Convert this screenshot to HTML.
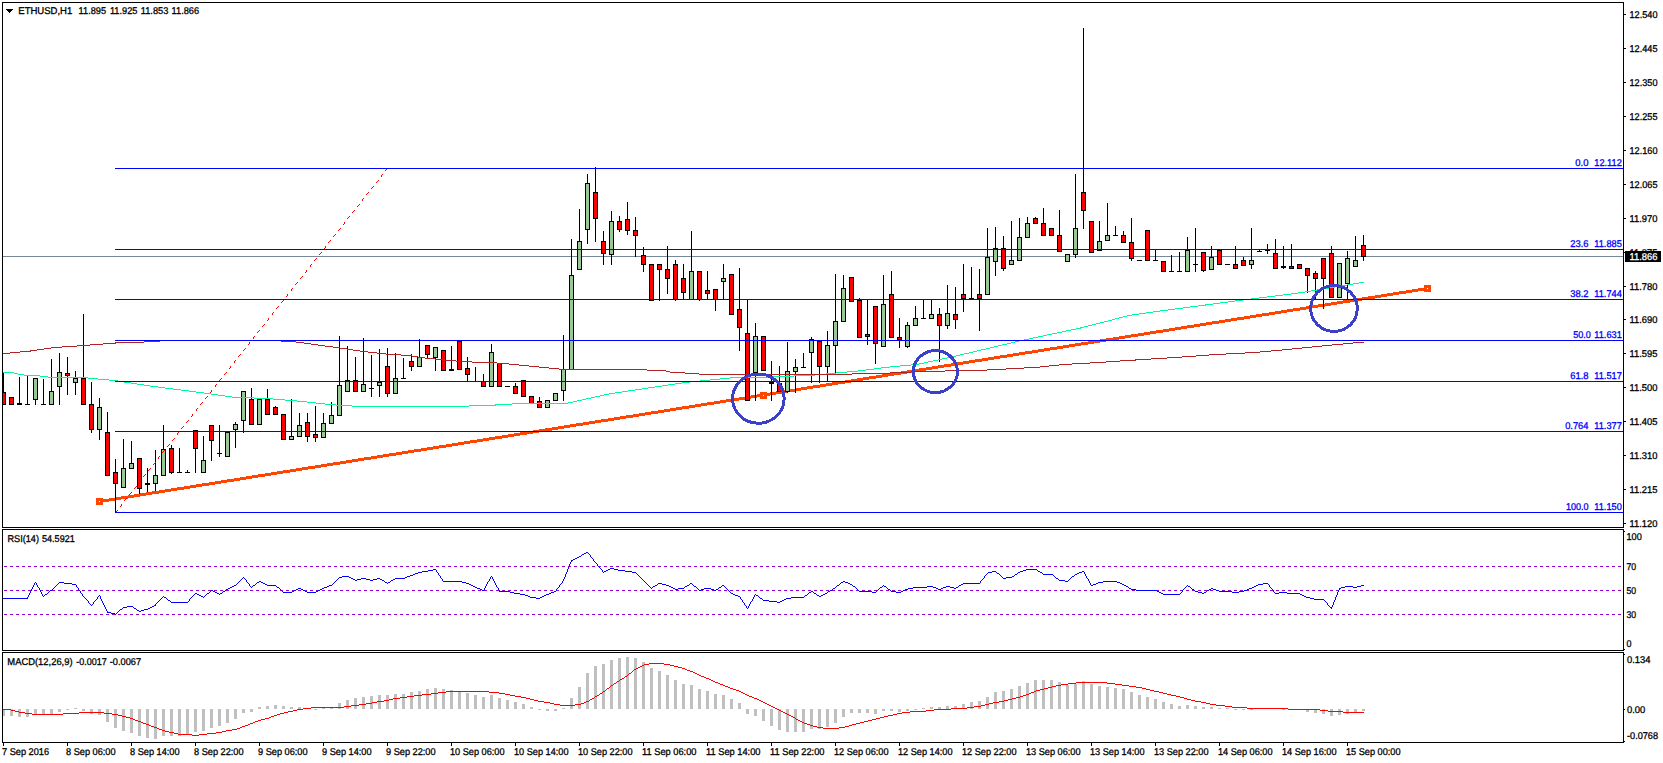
<!DOCTYPE html>
<html lang="en"><head><meta charset="utf-8"><title>ETHUSD,H1</title>
<style>html,body{margin:0;padding:0;background:#fff;overflow:hidden}svg{display:block}text{font-family:"Liberation Sans",sans-serif;font-size:9.8px;fill:#000;stroke:#000;stroke-width:0.3px;text-rendering:geometricPrecision}.b{fill:#0000ff;stroke:#0000ff}.w{fill:#fff;stroke:#fff}</style></head><body>
<svg width="1663" height="763" viewBox="0 0 1663 763">
<rect width="1663" height="763" fill="#fff"/>
<g shape-rendering="crispEdges">
<defs><clipPath id="cm"><rect x="3" y="3" width="1620" height="524"/></clipPath></defs>
<g clip-path="url(#cm)">
<rect x="3" y="256" width="1620" height="1" fill="#778899"/>
<path fill="#FF4500" d="M682 406h19v1h-19zM926 367h18v1h-18zM1269 312h18v1h-18zM1375 295h18v1h-18zM1225 319h19v1h-19zM134 494h18v1h-18zM1331 302h19v1h-19zM99 501h10v1h-10zM389 453h19v1h-19zM633 414h18v1h-18zM495 436h19v1h-19zM739 397h18v1h-18zM1081 342h19v1h-19zM1262 313h19v1h-19zM1038 349h19v1h-19zM1144 332h19v1h-19zM265 473h18v1h-18zM202 483h19v1h-19zM446 444h18v1h-18zM894 372h19v1h-19zM851 379h18v1h-18zM152 491h19v1h-19zM258 474h19v1h-19zM601 419h19v1h-19zM377 455h19v1h-19zM558 426h18v1h-18zM707 402h19v1h-19zM483 438h19v1h-19zM664 409h18v1h-18zM1250 315h19v1h-19zM782 390h19v1h-19zM963 361h19v1h-19zM1356 298h19v1h-19zM414 449h19v1h-19zM190 485h19v1h-19zM371 456h18v1h-18zM296 468h19v1h-19zM477 439h18v1h-18zM1063 345h18v1h-18zM1244 316h18v1h-18zM595 420h19v1h-19zM701 403h19v1h-19zM227 479h19v1h-19zM184 486h18v1h-18zM951 363h18v1h-18zM876 375h18v1h-18zM726 399h19v1h-19zM1057 346h18v1h-18zM408 450h19v1h-19zM1175 327h19v1h-19zM1281 310h19v1h-19zM1131 334h19v1h-19zM764 393h18v1h-18zM689 405h18v1h-18zM539 429h19v1h-19zM1212 321h19v1h-19zM221 480h19v1h-19zM988 357h19v1h-19zM1169 328h18v1h-18zM944 364h19v1h-19zM1393 292h19v1h-19zM396 452h18v1h-18zM576 423h19v1h-19zM352 459h19v1h-19zM1025 351h19v1h-19zM801 387h19v1h-19zM982 358h18v1h-18zM757 394h19v1h-19zM1343 300h19v1h-19zM1206 322h19v1h-19zM209 482h18v1h-18zM165 489h19v1h-19zM508 434h19v1h-19zM283 470h19v1h-19zM464 441h19v1h-19zM614 417h19v1h-19zM795 388h18v1h-18zM857 378h19v1h-19zM1156 330h19v1h-19zM1337 301h19v1h-19zM1019 352h19v1h-19zM321 464h19v1h-19zM99 500h16v1h-16zM277 471h19v1h-19zM969 360h19v1h-19zM1150 331h19v1h-19zM502 435h18v1h-18zM676 407h19v1h-19zM1306 306h19v1h-19zM315 465h18v1h-18zM1325 303h18v1h-18zM1412 289h17v1h-17zM1187 325h19v1h-19zM1368 296h19v1h-19zM489 437h19v1h-19zM670 408h19v1h-19zM776 391h19v1h-19zM1119 336h19v1h-19zM128 495h18v1h-18zM1075 343h19v1h-19zM1138 333h18v1h-18zM1000 355h19v1h-19zM1300 307h18v1h-18zM302 467h19v1h-19zM932 366h19v1h-19zM888 373h19v1h-19zM1113 337h18v1h-18zM115 497h19v1h-19zM658 410h18v1h-18zM745 396h19v1h-19zM520 432h19v1h-19zM1287 309h19v1h-19zM820 384h18v1h-18zM470 440h19v1h-19zM1100 339h19v1h-19zM1399 291h19v1h-19zM583 422h18v1h-18zM913 369h19v1h-19zM1318 304h19v1h-19zM1094 340h19v1h-19zM620 416h19v1h-19zM907 370h19v1h-19zM433 446h19v1h-19zM732 398h19v1h-19zM838 381h19v1h-19zM1381 294h18v1h-18zM246 476h19v1h-19zM545 428h19v1h-19zM564 425h19v1h-19zM651 411h19v1h-19zM427 447h19v1h-19zM1194 324h18v1h-18zM832 382h19v1h-19zM1418 288h11v1h-11zM240 477h18v1h-18zM1007 354h18v1h-18zM1231 318h19v1h-19zM99 502h4v1h-4zM714 401h18v1h-18zM1362 297h19v1h-19zM1044 348h19v1h-19zM527 431h18v1h-18zM234 478h18v1h-18zM813 385h19v1h-19zM340 461h18v1h-18zM639 413h19v1h-19zM882 374h19v1h-19zM452 443h18v1h-18zM695 404h19v1h-19zM333 462h19v1h-19zM146 492h19v1h-19zM845 380h18v1h-18zM140 493h19v1h-19zM364 457h19v1h-19zM177 487h19v1h-19zM358 458h19v1h-19zM826 383h19v1h-19zM171 488h19v1h-19zM121 496h19v1h-19zM346 460h18v1h-18zM975 359h19v1h-19zM751 395h19v1h-19zM159 490h18v1h-18zM788 389h19v1h-19zM919 368h19v1h-19zM957 362h18v1h-18zM770 392h18v1h-18zM1069 344h19v1h-19zM252 475h19v1h-19zM290 469h18v1h-18zM103 499h18v1h-18zM402 451h19v1h-19zM1050 347h19v1h-19zM215 481h19v1h-19zM863 377h19v1h-19zM570 424h19v1h-19zM1219 320h18v1h-18zM383 454h19v1h-19zM1032 350h18v1h-18zM196 484h19v1h-19zM308 466h19v1h-19zM552 427h18v1h-18zM1181 326h19v1h-19zM994 356h19v1h-19zM807 386h19v1h-19zM1106 338h19v1h-19zM1125 335h19v1h-19zM938 365h19v1h-19zM1275 311h18v1h-18zM458 442h19v1h-19zM1088 341h18v1h-18zM271 472h19v1h-19zM901 371h18v1h-18zM608 418h18v1h-18zM1013 353h19v1h-19zM1256 314h19v1h-19zM421 448h18v1h-18zM1293 308h19v1h-19zM589 421h19v1h-19zM626 415h19v1h-19zM514 433h19v1h-19zM439 445h19v1h-19zM1163 329h18v1h-18zM1387 293h19v1h-19zM327 463h19v1h-19zM1200 323h19v1h-19zM1312 305h19v1h-19zM720 400h19v1h-19zM533 430h19v1h-19zM1237 317h19v1h-19zM1350 299h18v1h-18zM1406 290h18v1h-18zM645 412h19v1h-19zM869 376h19v1h-19zM109 498h19v1h-19zM1424 287h5v1h-5z"/>
<rect x="96" y="498" width="7" height="7" fill="#FF4500"/>
<rect x="99" y="501" width="1" height="1" fill="#fff"/>
<rect x="760" y="392" width="7" height="7" fill="#FF4500"/>
<rect x="763" y="395" width="1" height="1" fill="#fff"/>
<rect x="1424" y="285" width="7" height="7" fill="#FF4500"/>
<rect x="1427" y="288" width="1" height="1" fill="#fff"/>
<rect x="3" y="372" width="1" height="33" fill="#000"/>
<rect x="1" y="392" width="5" height="13" fill="#000"/>
<rect x="2" y="393" width="3" height="11" fill="#FF0000"/>
<rect x="11" y="397" width="1" height="8" fill="#000"/>
<rect x="9" y="397" width="5" height="8" fill="#000"/>
<rect x="10" y="398" width="3" height="6" fill="#FF0000"/>
<rect x="19" y="377" width="1" height="28" fill="#000"/>
<rect x="17" y="403" width="5" height="2" fill="#000"/>
<rect x="27" y="376" width="1" height="29" fill="#000"/>
<rect x="25" y="404" width="5" height="1" fill="#000"/>
<rect x="35" y="378" width="1" height="27" fill="#000"/>
<rect x="33" y="378" width="5" height="22" fill="#000"/>
<rect x="34" y="379" width="3" height="20" fill="#98C894"/>
<rect x="43" y="379" width="1" height="26" fill="#000"/>
<rect x="41" y="404" width="5" height="1" fill="#000"/>
<rect x="51" y="359" width="1" height="46" fill="#000"/>
<rect x="49" y="391" width="5" height="14" fill="#000"/>
<rect x="50" y="392" width="3" height="12" fill="#98C894"/>
<rect x="59" y="353" width="1" height="52" fill="#000"/>
<rect x="57" y="372" width="5" height="15" fill="#000"/>
<rect x="58" y="373" width="3" height="13" fill="#98C894"/>
<rect x="67" y="357" width="1" height="38" fill="#000"/>
<rect x="65" y="373" width="5" height="3" fill="#000"/>
<rect x="66" y="374" width="3" height="1" fill="#FF0000"/>
<rect x="75" y="371" width="1" height="24" fill="#000"/>
<rect x="73" y="378" width="5" height="5" fill="#000"/>
<rect x="74" y="379" width="3" height="3" fill="#98C894"/>
<rect x="83" y="314" width="1" height="91" fill="#000"/>
<rect x="81" y="378" width="5" height="27" fill="#000"/>
<rect x="82" y="379" width="3" height="25" fill="#FF0000"/>
<rect x="91" y="382" width="1" height="51" fill="#000"/>
<rect x="89" y="404" width="5" height="26" fill="#000"/>
<rect x="90" y="405" width="3" height="24" fill="#FF0000"/>
<rect x="99" y="398" width="1" height="42" fill="#000"/>
<rect x="97" y="407" width="5" height="23" fill="#000"/>
<rect x="98" y="408" width="3" height="21" fill="#98C894"/>
<rect x="107" y="412" width="1" height="64" fill="#000"/>
<rect x="105" y="432" width="5" height="44" fill="#000"/>
<rect x="106" y="433" width="3" height="42" fill="#FF0000"/>
<rect x="115" y="459" width="1" height="54" fill="#000"/>
<rect x="113" y="472" width="5" height="12" fill="#000"/>
<rect x="114" y="473" width="3" height="10" fill="#FF0000"/>
<rect x="123" y="439" width="1" height="49" fill="#000"/>
<rect x="121" y="468" width="5" height="20" fill="#000"/>
<rect x="122" y="469" width="3" height="18" fill="#98C894"/>
<rect x="131" y="441" width="1" height="28" fill="#000"/>
<rect x="129" y="463" width="5" height="6" fill="#000"/>
<rect x="130" y="464" width="3" height="4" fill="#98C894"/>
<rect x="139" y="458" width="1" height="36" fill="#000"/>
<rect x="137" y="458" width="5" height="31" fill="#000"/>
<rect x="138" y="459" width="3" height="29" fill="#FF0000"/>
<rect x="147" y="468" width="1" height="24" fill="#000"/>
<rect x="145" y="483" width="5" height="2" fill="#000"/>
<rect x="155" y="450" width="1" height="41" fill="#000"/>
<rect x="153" y="475" width="5" height="9" fill="#000"/>
<rect x="154" y="476" width="3" height="7" fill="#98C894"/>
<rect x="163" y="425" width="1" height="51" fill="#000"/>
<rect x="161" y="449" width="5" height="27" fill="#000"/>
<rect x="162" y="450" width="3" height="25" fill="#98C894"/>
<rect x="171" y="445" width="1" height="29" fill="#000"/>
<rect x="169" y="448" width="5" height="25" fill="#000"/>
<rect x="170" y="449" width="3" height="23" fill="#FF0000"/>
<rect x="179" y="448" width="1" height="25" fill="#000"/>
<rect x="177" y="472" width="5" height="1" fill="#000"/>
<rect x="187" y="470" width="1" height="3" fill="#000"/>
<rect x="185" y="472" width="5" height="1" fill="#000"/>
<rect x="195" y="430" width="1" height="43" fill="#000"/>
<rect x="193" y="430" width="5" height="19" fill="#000"/>
<rect x="194" y="431" width="3" height="17" fill="#FF0000"/>
<rect x="203" y="436" width="1" height="37" fill="#000"/>
<rect x="201" y="460" width="5" height="13" fill="#000"/>
<rect x="202" y="461" width="3" height="11" fill="#98C894"/>
<rect x="211" y="425" width="1" height="36" fill="#000"/>
<rect x="209" y="425" width="5" height="16" fill="#000"/>
<rect x="210" y="426" width="3" height="14" fill="#FF0000"/>
<rect x="219" y="425" width="1" height="32" fill="#000"/>
<rect x="217" y="453" width="5" height="1" fill="#000"/>
<rect x="227" y="432" width="1" height="25" fill="#000"/>
<rect x="225" y="432" width="5" height="25" fill="#000"/>
<rect x="226" y="433" width="3" height="23" fill="#98C894"/>
<rect x="235" y="422" width="1" height="26" fill="#000"/>
<rect x="233" y="424" width="5" height="6" fill="#000"/>
<rect x="234" y="425" width="3" height="4" fill="#98C894"/>
<rect x="243" y="391" width="1" height="42" fill="#000"/>
<rect x="241" y="391" width="5" height="30" fill="#000"/>
<rect x="242" y="392" width="3" height="28" fill="#98C894"/>
<rect x="251" y="388" width="1" height="37" fill="#000"/>
<rect x="249" y="399" width="5" height="26" fill="#000"/>
<rect x="250" y="400" width="3" height="24" fill="#FF0000"/>
<rect x="259" y="399" width="1" height="26" fill="#000"/>
<rect x="257" y="399" width="5" height="26" fill="#000"/>
<rect x="258" y="400" width="3" height="24" fill="#98C894"/>
<rect x="267" y="389" width="1" height="26" fill="#000"/>
<rect x="265" y="399" width="5" height="16" fill="#000"/>
<rect x="266" y="400" width="3" height="14" fill="#FF0000"/>
<rect x="275" y="406" width="1" height="9" fill="#000"/>
<rect x="273" y="407" width="5" height="8" fill="#000"/>
<rect x="274" y="408" width="3" height="6" fill="#FF0000"/>
<rect x="283" y="414" width="1" height="26" fill="#000"/>
<rect x="281" y="414" width="5" height="26" fill="#000"/>
<rect x="282" y="415" width="3" height="24" fill="#FF0000"/>
<rect x="291" y="399" width="1" height="41" fill="#000"/>
<rect x="289" y="436" width="5" height="4" fill="#000"/>
<rect x="290" y="437" width="3" height="2" fill="#98C894"/>
<rect x="299" y="413" width="1" height="24" fill="#000"/>
<rect x="297" y="425" width="5" height="12" fill="#000"/>
<rect x="298" y="426" width="3" height="10" fill="#98C894"/>
<rect x="307" y="413" width="1" height="29" fill="#000"/>
<rect x="305" y="422" width="5" height="15" fill="#000"/>
<rect x="306" y="423" width="3" height="13" fill="#FF0000"/>
<rect x="315" y="406" width="1" height="36" fill="#000"/>
<rect x="313" y="434" width="5" height="4" fill="#000"/>
<rect x="314" y="435" width="3" height="2" fill="#FF0000"/>
<rect x="323" y="413" width="1" height="25" fill="#000"/>
<rect x="321" y="423" width="5" height="15" fill="#000"/>
<rect x="322" y="424" width="3" height="13" fill="#98C894"/>
<rect x="331" y="402" width="1" height="22" fill="#000"/>
<rect x="329" y="415" width="5" height="9" fill="#000"/>
<rect x="330" y="416" width="3" height="7" fill="#98C894"/>
<rect x="339" y="336" width="1" height="80" fill="#000"/>
<rect x="337" y="385" width="5" height="31" fill="#000"/>
<rect x="338" y="386" width="3" height="29" fill="#98C894"/>
<rect x="347" y="346" width="1" height="46" fill="#000"/>
<rect x="345" y="380" width="5" height="12" fill="#000"/>
<rect x="346" y="381" width="3" height="10" fill="#98C894"/>
<rect x="355" y="357" width="1" height="35" fill="#000"/>
<rect x="353" y="380" width="5" height="12" fill="#000"/>
<rect x="354" y="381" width="3" height="10" fill="#FF0000"/>
<rect x="363" y="338" width="1" height="54" fill="#000"/>
<rect x="361" y="384" width="5" height="8" fill="#000"/>
<rect x="362" y="385" width="3" height="6" fill="#98C894"/>
<rect x="371" y="355" width="1" height="42" fill="#000"/>
<rect x="369" y="388" width="5" height="1" fill="#000"/>
<rect x="379" y="349" width="1" height="48" fill="#000"/>
<rect x="377" y="382" width="5" height="4" fill="#000"/>
<rect x="378" y="383" width="3" height="2" fill="#98C894"/>
<rect x="387" y="348" width="1" height="49" fill="#000"/>
<rect x="385" y="366" width="5" height="28" fill="#000"/>
<rect x="386" y="367" width="3" height="26" fill="#FF0000"/>
<rect x="395" y="353" width="1" height="41" fill="#000"/>
<rect x="393" y="378" width="5" height="16" fill="#000"/>
<rect x="394" y="379" width="3" height="14" fill="#98C894"/>
<rect x="403" y="358" width="1" height="21" fill="#000"/>
<rect x="401" y="378" width="5" height="1" fill="#000"/>
<rect x="411" y="354" width="1" height="17" fill="#000"/>
<rect x="409" y="361" width="5" height="6" fill="#000"/>
<rect x="410" y="362" width="3" height="4" fill="#FF0000"/>
<rect x="419" y="339" width="1" height="28" fill="#000"/>
<rect x="417" y="357" width="5" height="10" fill="#000"/>
<rect x="418" y="358" width="3" height="8" fill="#98C894"/>
<rect x="427" y="345" width="1" height="13" fill="#000"/>
<rect x="425" y="345" width="5" height="10" fill="#000"/>
<rect x="426" y="346" width="3" height="8" fill="#FF0000"/>
<rect x="435" y="347" width="1" height="24" fill="#000"/>
<rect x="433" y="347" width="5" height="11" fill="#000"/>
<rect x="434" y="348" width="3" height="9" fill="#98C894"/>
<rect x="443" y="350" width="1" height="21" fill="#000"/>
<rect x="441" y="350" width="5" height="21" fill="#000"/>
<rect x="442" y="351" width="3" height="19" fill="#FF0000"/>
<rect x="451" y="346" width="1" height="25" fill="#000"/>
<rect x="449" y="369" width="5" height="2" fill="#000"/>
<rect x="459" y="341" width="1" height="29" fill="#000"/>
<rect x="457" y="341" width="5" height="29" fill="#000"/>
<rect x="458" y="342" width="3" height="27" fill="#FF0000"/>
<rect x="467" y="357" width="1" height="24" fill="#000"/>
<rect x="465" y="368" width="5" height="7" fill="#000"/>
<rect x="466" y="369" width="3" height="5" fill="#FF0000"/>
<rect x="475" y="367" width="1" height="15" fill="#000"/>
<rect x="473" y="381" width="5" height="1" fill="#000"/>
<rect x="483" y="374" width="1" height="13" fill="#000"/>
<rect x="481" y="381" width="5" height="6" fill="#000"/>
<rect x="482" y="382" width="3" height="4" fill="#FF0000"/>
<rect x="491" y="344" width="1" height="43" fill="#000"/>
<rect x="489" y="352" width="5" height="35" fill="#000"/>
<rect x="490" y="353" width="3" height="33" fill="#98C894"/>
<rect x="499" y="363" width="1" height="24" fill="#000"/>
<rect x="497" y="363" width="5" height="24" fill="#000"/>
<rect x="498" y="364" width="3" height="22" fill="#FF0000"/>
<rect x="507" y="386" width="1" height="1" fill="#000"/>
<rect x="505" y="386" width="5" height="1" fill="#000"/>
<rect x="515" y="383" width="1" height="11" fill="#000"/>
<rect x="513" y="386" width="5" height="8" fill="#000"/>
<rect x="514" y="387" width="3" height="6" fill="#FF0000"/>
<rect x="523" y="380" width="1" height="17" fill="#000"/>
<rect x="521" y="380" width="5" height="17" fill="#000"/>
<rect x="522" y="381" width="3" height="15" fill="#FF0000"/>
<rect x="531" y="396" width="1" height="8" fill="#000"/>
<rect x="529" y="396" width="5" height="8" fill="#000"/>
<rect x="530" y="397" width="3" height="6" fill="#FF0000"/>
<rect x="539" y="397" width="1" height="11" fill="#000"/>
<rect x="537" y="401" width="5" height="7" fill="#000"/>
<rect x="538" y="402" width="3" height="5" fill="#FF0000"/>
<rect x="547" y="400" width="1" height="8" fill="#000"/>
<rect x="545" y="400" width="5" height="8" fill="#000"/>
<rect x="546" y="401" width="3" height="6" fill="#98C894"/>
<rect x="555" y="393" width="1" height="8" fill="#000"/>
<rect x="553" y="393" width="5" height="8" fill="#000"/>
<rect x="554" y="394" width="3" height="6" fill="#98C894"/>
<rect x="563" y="335" width="1" height="66" fill="#000"/>
<rect x="561" y="369" width="5" height="22" fill="#000"/>
<rect x="562" y="370" width="3" height="20" fill="#98C894"/>
<rect x="571" y="239" width="1" height="131" fill="#000"/>
<rect x="569" y="275" width="5" height="95" fill="#000"/>
<rect x="570" y="276" width="3" height="93" fill="#98C894"/>
<rect x="579" y="209" width="1" height="61" fill="#000"/>
<rect x="577" y="241" width="5" height="29" fill="#000"/>
<rect x="578" y="242" width="3" height="27" fill="#98C894"/>
<rect x="587" y="174" width="1" height="70" fill="#000"/>
<rect x="585" y="183" width="5" height="47" fill="#000"/>
<rect x="586" y="184" width="3" height="45" fill="#98C894"/>
<rect x="595" y="167" width="1" height="75" fill="#000"/>
<rect x="593" y="192" width="5" height="27" fill="#000"/>
<rect x="594" y="193" width="3" height="25" fill="#FF0000"/>
<rect x="603" y="231" width="1" height="34" fill="#000"/>
<rect x="601" y="241" width="5" height="13" fill="#000"/>
<rect x="602" y="242" width="3" height="11" fill="#FF0000"/>
<rect x="611" y="211" width="1" height="54" fill="#000"/>
<rect x="609" y="221" width="5" height="34" fill="#000"/>
<rect x="610" y="222" width="3" height="32" fill="#98C894"/>
<rect x="619" y="216" width="1" height="16" fill="#000"/>
<rect x="617" y="221" width="5" height="9" fill="#000"/>
<rect x="618" y="222" width="3" height="7" fill="#FF0000"/>
<rect x="627" y="202" width="1" height="33" fill="#000"/>
<rect x="625" y="219" width="5" height="12" fill="#000"/>
<rect x="626" y="220" width="3" height="10" fill="#FF0000"/>
<rect x="635" y="217" width="1" height="40" fill="#000"/>
<rect x="633" y="230" width="5" height="6" fill="#000"/>
<rect x="634" y="231" width="3" height="4" fill="#FF0000"/>
<rect x="643" y="247" width="1" height="25" fill="#000"/>
<rect x="641" y="255" width="5" height="10" fill="#000"/>
<rect x="642" y="256" width="3" height="8" fill="#FF0000"/>
<rect x="651" y="264" width="1" height="37" fill="#000"/>
<rect x="649" y="264" width="5" height="37" fill="#000"/>
<rect x="650" y="265" width="3" height="35" fill="#FF0000"/>
<rect x="659" y="264" width="1" height="37" fill="#000"/>
<rect x="657" y="264" width="5" height="6" fill="#000"/>
<rect x="658" y="265" width="3" height="4" fill="#FF0000"/>
<rect x="667" y="246" width="1" height="48" fill="#000"/>
<rect x="665" y="269" width="5" height="10" fill="#000"/>
<rect x="666" y="270" width="3" height="8" fill="#FF0000"/>
<rect x="675" y="260" width="1" height="41" fill="#000"/>
<rect x="673" y="264" width="5" height="36" fill="#000"/>
<rect x="674" y="265" width="3" height="34" fill="#FF0000"/>
<rect x="683" y="264" width="1" height="36" fill="#000"/>
<rect x="681" y="278" width="5" height="15" fill="#000"/>
<rect x="682" y="279" width="3" height="13" fill="#FF0000"/>
<rect x="691" y="231" width="1" height="69" fill="#000"/>
<rect x="689" y="271" width="5" height="29" fill="#000"/>
<rect x="690" y="272" width="3" height="27" fill="#98C894"/>
<rect x="699" y="271" width="1" height="30" fill="#000"/>
<rect x="697" y="271" width="5" height="29" fill="#000"/>
<rect x="698" y="272" width="3" height="27" fill="#FF0000"/>
<rect x="707" y="271" width="1" height="29" fill="#000"/>
<rect x="705" y="290" width="5" height="4" fill="#000"/>
<rect x="706" y="291" width="3" height="2" fill="#FF0000"/>
<rect x="715" y="289" width="1" height="22" fill="#000"/>
<rect x="713" y="289" width="5" height="11" fill="#000"/>
<rect x="714" y="290" width="3" height="9" fill="#FF0000"/>
<rect x="723" y="264" width="1" height="36" fill="#000"/>
<rect x="721" y="278" width="5" height="4" fill="#000"/>
<rect x="722" y="279" width="3" height="2" fill="#98C894"/>
<rect x="731" y="274" width="1" height="41" fill="#000"/>
<rect x="729" y="274" width="5" height="41" fill="#000"/>
<rect x="730" y="275" width="3" height="39" fill="#FF0000"/>
<rect x="739" y="268" width="1" height="83" fill="#000"/>
<rect x="737" y="309" width="5" height="19" fill="#000"/>
<rect x="738" y="310" width="3" height="17" fill="#FF0000"/>
<rect x="747" y="300" width="1" height="101" fill="#000"/>
<rect x="745" y="333" width="5" height="68" fill="#000"/>
<rect x="746" y="334" width="3" height="66" fill="#FF0000"/>
<rect x="755" y="323" width="1" height="78" fill="#000"/>
<rect x="753" y="336" width="5" height="37" fill="#000"/>
<rect x="754" y="337" width="3" height="35" fill="#98C894"/>
<rect x="763" y="336" width="1" height="35" fill="#000"/>
<rect x="761" y="336" width="5" height="35" fill="#000"/>
<rect x="762" y="337" width="3" height="33" fill="#FF0000"/>
<rect x="771" y="361" width="1" height="40" fill="#000"/>
<rect x="769" y="382" width="5" height="2" fill="#000"/>
<rect x="779" y="366" width="1" height="26" fill="#000"/>
<rect x="777" y="383" width="5" height="9" fill="#000"/>
<rect x="778" y="384" width="3" height="7" fill="#FF0000"/>
<rect x="787" y="342" width="1" height="51" fill="#000"/>
<rect x="785" y="371" width="5" height="21" fill="#000"/>
<rect x="786" y="372" width="3" height="19" fill="#98C894"/>
<rect x="795" y="359" width="1" height="34" fill="#000"/>
<rect x="793" y="367" width="5" height="5" fill="#000"/>
<rect x="794" y="368" width="3" height="3" fill="#98C894"/>
<rect x="803" y="353" width="1" height="15" fill="#000"/>
<rect x="801" y="367" width="5" height="1" fill="#000"/>
<rect x="811" y="337" width="1" height="46" fill="#000"/>
<rect x="809" y="339" width="5" height="14" fill="#000"/>
<rect x="810" y="340" width="3" height="12" fill="#98C894"/>
<rect x="819" y="341" width="1" height="42" fill="#000"/>
<rect x="817" y="341" width="5" height="26" fill="#000"/>
<rect x="818" y="342" width="3" height="24" fill="#FF0000"/>
<rect x="827" y="331" width="1" height="50" fill="#000"/>
<rect x="825" y="345" width="5" height="22" fill="#000"/>
<rect x="826" y="346" width="3" height="20" fill="#98C894"/>
<rect x="835" y="274" width="1" height="99" fill="#000"/>
<rect x="833" y="321" width="5" height="25" fill="#000"/>
<rect x="834" y="322" width="3" height="23" fill="#98C894"/>
<rect x="843" y="275" width="1" height="47" fill="#000"/>
<rect x="841" y="288" width="5" height="34" fill="#000"/>
<rect x="842" y="289" width="3" height="32" fill="#98C894"/>
<rect x="851" y="277" width="1" height="25" fill="#000"/>
<rect x="849" y="277" width="5" height="25" fill="#000"/>
<rect x="850" y="278" width="3" height="23" fill="#FF0000"/>
<rect x="859" y="298" width="1" height="40" fill="#000"/>
<rect x="857" y="300" width="5" height="38" fill="#000"/>
<rect x="858" y="301" width="3" height="36" fill="#FF0000"/>
<rect x="867" y="300" width="1" height="45" fill="#000"/>
<rect x="865" y="334" width="5" height="3" fill="#000"/>
<rect x="866" y="335" width="3" height="1" fill="#FF0000"/>
<rect x="875" y="306" width="1" height="58" fill="#000"/>
<rect x="873" y="306" width="5" height="38" fill="#000"/>
<rect x="874" y="307" width="3" height="36" fill="#FF0000"/>
<rect x="883" y="275" width="1" height="72" fill="#000"/>
<rect x="881" y="304" width="5" height="43" fill="#000"/>
<rect x="882" y="305" width="3" height="41" fill="#98C894"/>
<rect x="891" y="271" width="1" height="67" fill="#000"/>
<rect x="889" y="294" width="5" height="44" fill="#000"/>
<rect x="890" y="295" width="3" height="42" fill="#FF0000"/>
<rect x="899" y="318" width="1" height="30" fill="#000"/>
<rect x="897" y="337" width="5" height="3" fill="#000"/>
<rect x="898" y="338" width="3" height="1" fill="#FF0000"/>
<rect x="907" y="322" width="1" height="26" fill="#000"/>
<rect x="905" y="325" width="5" height="22" fill="#000"/>
<rect x="906" y="326" width="3" height="20" fill="#98C894"/>
<rect x="915" y="306" width="1" height="20" fill="#000"/>
<rect x="913" y="318" width="5" height="8" fill="#000"/>
<rect x="914" y="319" width="3" height="6" fill="#98C894"/>
<rect x="923" y="299" width="1" height="20" fill="#000"/>
<rect x="921" y="318" width="5" height="1" fill="#000"/>
<rect x="931" y="299" width="1" height="20" fill="#000"/>
<rect x="929" y="314" width="5" height="5" fill="#000"/>
<rect x="930" y="315" width="3" height="3" fill="#98C894"/>
<rect x="939" y="308" width="1" height="54" fill="#000"/>
<rect x="937" y="314" width="5" height="12" fill="#000"/>
<rect x="938" y="315" width="3" height="10" fill="#FF0000"/>
<rect x="947" y="285" width="1" height="44" fill="#000"/>
<rect x="945" y="313" width="5" height="13" fill="#000"/>
<rect x="946" y="314" width="3" height="11" fill="#98C894"/>
<rect x="955" y="287" width="1" height="42" fill="#000"/>
<rect x="953" y="314" width="5" height="6" fill="#000"/>
<rect x="954" y="315" width="3" height="4" fill="#FF0000"/>
<rect x="963" y="264" width="1" height="48" fill="#000"/>
<rect x="961" y="294" width="5" height="5" fill="#000"/>
<rect x="962" y="295" width="3" height="3" fill="#FF0000"/>
<rect x="971" y="267" width="1" height="32" fill="#000"/>
<rect x="969" y="298" width="5" height="1" fill="#000"/>
<rect x="979" y="269" width="1" height="62" fill="#000"/>
<rect x="977" y="294" width="5" height="5" fill="#000"/>
<rect x="978" y="295" width="3" height="3" fill="#FF0000"/>
<rect x="987" y="228" width="1" height="67" fill="#000"/>
<rect x="985" y="257" width="5" height="38" fill="#000"/>
<rect x="986" y="258" width="3" height="36" fill="#98C894"/>
<rect x="995" y="227" width="1" height="49" fill="#000"/>
<rect x="993" y="248" width="5" height="14" fill="#000"/>
<rect x="994" y="249" width="3" height="12" fill="#98C894"/>
<rect x="1003" y="236" width="1" height="35" fill="#000"/>
<rect x="1001" y="248" width="5" height="21" fill="#000"/>
<rect x="1002" y="249" width="3" height="19" fill="#FF0000"/>
<rect x="1011" y="221" width="1" height="44" fill="#000"/>
<rect x="1009" y="260" width="5" height="5" fill="#000"/>
<rect x="1010" y="261" width="3" height="3" fill="#98C894"/>
<rect x="1019" y="218" width="1" height="43" fill="#000"/>
<rect x="1017" y="237" width="5" height="24" fill="#000"/>
<rect x="1018" y="238" width="3" height="22" fill="#98C894"/>
<rect x="1027" y="217" width="1" height="21" fill="#000"/>
<rect x="1025" y="223" width="5" height="15" fill="#000"/>
<rect x="1026" y="224" width="3" height="13" fill="#98C894"/>
<rect x="1035" y="217" width="1" height="7" fill="#000"/>
<rect x="1033" y="218" width="5" height="6" fill="#000"/>
<rect x="1034" y="219" width="3" height="4" fill="#FF0000"/>
<rect x="1043" y="208" width="1" height="28" fill="#000"/>
<rect x="1041" y="223" width="5" height="13" fill="#000"/>
<rect x="1042" y="224" width="3" height="11" fill="#FF0000"/>
<rect x="1051" y="228" width="1" height="8" fill="#000"/>
<rect x="1049" y="228" width="5" height="8" fill="#000"/>
<rect x="1050" y="229" width="3" height="6" fill="#FF0000"/>
<rect x="1059" y="210" width="1" height="42" fill="#000"/>
<rect x="1057" y="235" width="5" height="17" fill="#000"/>
<rect x="1058" y="236" width="3" height="15" fill="#FF0000"/>
<rect x="1067" y="254" width="1" height="8" fill="#000"/>
<rect x="1065" y="254" width="5" height="8" fill="#000"/>
<rect x="1066" y="255" width="3" height="6" fill="#98C894"/>
<rect x="1075" y="174" width="1" height="84" fill="#000"/>
<rect x="1073" y="228" width="5" height="27" fill="#000"/>
<rect x="1074" y="229" width="3" height="25" fill="#98C894"/>
<rect x="1083" y="28" width="1" height="201" fill="#000"/>
<rect x="1081" y="192" width="5" height="19" fill="#000"/>
<rect x="1082" y="193" width="3" height="17" fill="#FF0000"/>
<rect x="1091" y="221" width="1" height="32" fill="#000"/>
<rect x="1089" y="221" width="5" height="32" fill="#000"/>
<rect x="1090" y="222" width="3" height="30" fill="#FF0000"/>
<rect x="1099" y="221" width="1" height="30" fill="#000"/>
<rect x="1097" y="241" width="5" height="10" fill="#000"/>
<rect x="1098" y="242" width="3" height="8" fill="#98C894"/>
<rect x="1107" y="203" width="1" height="38" fill="#000"/>
<rect x="1105" y="235" width="5" height="6" fill="#000"/>
<rect x="1106" y="236" width="3" height="4" fill="#98C894"/>
<rect x="1115" y="226" width="1" height="10" fill="#000"/>
<rect x="1113" y="235" width="5" height="1" fill="#000"/>
<rect x="1123" y="231" width="1" height="12" fill="#000"/>
<rect x="1121" y="235" width="5" height="8" fill="#000"/>
<rect x="1122" y="236" width="3" height="6" fill="#FF0000"/>
<rect x="1131" y="218" width="1" height="43" fill="#000"/>
<rect x="1129" y="242" width="5" height="17" fill="#000"/>
<rect x="1130" y="243" width="3" height="15" fill="#FF0000"/>
<rect x="1139" y="260" width="1" height="1" fill="#000"/>
<rect x="1137" y="260" width="5" height="1" fill="#000"/>
<rect x="1147" y="230" width="1" height="31" fill="#000"/>
<rect x="1145" y="230" width="5" height="31" fill="#000"/>
<rect x="1146" y="231" width="3" height="29" fill="#FF0000"/>
<rect x="1155" y="250" width="1" height="11" fill="#000"/>
<rect x="1153" y="260" width="5" height="1" fill="#000"/>
<rect x="1163" y="261" width="1" height="11" fill="#000"/>
<rect x="1161" y="261" width="5" height="11" fill="#000"/>
<rect x="1162" y="262" width="3" height="9" fill="#FF0000"/>
<rect x="1171" y="255" width="1" height="17" fill="#000"/>
<rect x="1169" y="271" width="5" height="1" fill="#000"/>
<rect x="1179" y="252" width="1" height="20" fill="#000"/>
<rect x="1177" y="271" width="5" height="1" fill="#000"/>
<rect x="1187" y="237" width="1" height="35" fill="#000"/>
<rect x="1185" y="250" width="5" height="22" fill="#000"/>
<rect x="1186" y="251" width="3" height="20" fill="#98C894"/>
<rect x="1195" y="228" width="1" height="44" fill="#000"/>
<rect x="1193" y="264" width="5" height="1" fill="#000"/>
<rect x="1203" y="252" width="1" height="20" fill="#000"/>
<rect x="1201" y="252" width="5" height="19" fill="#000"/>
<rect x="1202" y="253" width="3" height="17" fill="#FF0000"/>
<rect x="1211" y="246" width="1" height="24" fill="#000"/>
<rect x="1209" y="257" width="5" height="13" fill="#000"/>
<rect x="1210" y="258" width="3" height="11" fill="#98C894"/>
<rect x="1219" y="250" width="1" height="15" fill="#000"/>
<rect x="1217" y="250" width="5" height="15" fill="#000"/>
<rect x="1218" y="251" width="3" height="13" fill="#FF0000"/>
<rect x="1227" y="264" width="1" height="1" fill="#000"/>
<rect x="1225" y="264" width="5" height="1" fill="#000"/>
<rect x="1235" y="246" width="1" height="23" fill="#000"/>
<rect x="1233" y="264" width="5" height="5" fill="#000"/>
<rect x="1234" y="265" width="3" height="3" fill="#FF0000"/>
<rect x="1243" y="257" width="1" height="9" fill="#000"/>
<rect x="1241" y="260" width="5" height="6" fill="#000"/>
<rect x="1242" y="261" width="3" height="4" fill="#FF0000"/>
<rect x="1251" y="228" width="1" height="41" fill="#000"/>
<rect x="1249" y="260" width="5" height="5" fill="#000"/>
<rect x="1250" y="261" width="3" height="3" fill="#98C894"/>
<rect x="1259" y="250" width="1" height="2" fill="#000"/>
<rect x="1257" y="251" width="5" height="1" fill="#000"/>
<rect x="1267" y="244" width="1" height="10" fill="#000"/>
<rect x="1265" y="250" width="5" height="1" fill="#000"/>
<rect x="1275" y="239" width="1" height="30" fill="#000"/>
<rect x="1273" y="253" width="5" height="16" fill="#000"/>
<rect x="1274" y="254" width="3" height="14" fill="#FF0000"/>
<rect x="1283" y="246" width="1" height="23" fill="#000"/>
<rect x="1281" y="266" width="5" height="2" fill="#000"/>
<rect x="1291" y="244" width="1" height="25" fill="#000"/>
<rect x="1289" y="266" width="5" height="3" fill="#000"/>
<rect x="1290" y="267" width="3" height="1" fill="#FF0000"/>
<rect x="1299" y="264" width="1" height="5" fill="#000"/>
<rect x="1297" y="264" width="5" height="5" fill="#000"/>
<rect x="1298" y="265" width="3" height="3" fill="#FF0000"/>
<rect x="1307" y="268" width="1" height="25" fill="#000"/>
<rect x="1305" y="268" width="5" height="8" fill="#000"/>
<rect x="1306" y="269" width="3" height="6" fill="#FF0000"/>
<rect x="1315" y="271" width="1" height="28" fill="#000"/>
<rect x="1313" y="273" width="5" height="6" fill="#000"/>
<rect x="1314" y="274" width="3" height="4" fill="#FF0000"/>
<rect x="1323" y="258" width="1" height="51" fill="#000"/>
<rect x="1321" y="258" width="5" height="21" fill="#000"/>
<rect x="1322" y="259" width="3" height="19" fill="#FF0000"/>
<rect x="1331" y="246" width="1" height="52" fill="#000"/>
<rect x="1329" y="253" width="5" height="45" fill="#000"/>
<rect x="1330" y="254" width="3" height="43" fill="#FF0000"/>
<rect x="1339" y="263" width="1" height="35" fill="#000"/>
<rect x="1337" y="263" width="5" height="35" fill="#000"/>
<rect x="1338" y="264" width="3" height="33" fill="#98C894"/>
<rect x="1347" y="251" width="1" height="49" fill="#000"/>
<rect x="1345" y="258" width="5" height="26" fill="#000"/>
<rect x="1346" y="259" width="3" height="24" fill="#98C894"/>
<rect x="1355" y="236" width="1" height="31" fill="#000"/>
<rect x="1353" y="260" width="5" height="7" fill="#000"/>
<rect x="1354" y="261" width="3" height="5" fill="#98C894"/>
<rect x="1363" y="235" width="1" height="26" fill="#000"/>
<rect x="1361" y="245" width="5" height="12" fill="#000"/>
<rect x="1362" y="246" width="3" height="10" fill="#FF0000"/>
<path fill="#00FA9A" d="M48 377h40v1h-40zM730 377h40v1h-40zM18 374h6v1h-6zM815 374h11v1h-11zM352 406h117v1h-117zM109 380h9v1h-9zM700 380h10v1h-10zM316 403h9v1h-9zM512 403h56v1h-56zM1323 288h6v1h-6zM181 390h8v1h-8zM628 390h7v1h-7zM1335 286h6v1h-6zM1190 306h8v1h-8zM1359 282h5v1h-5zM336 405h16v1h-16zM469 405h27v1h-27zM14 373h4v1h-4zM826 373h10v1h-10zM847 371h11v1h-11zM1047 334h5v1h-5zM1127 315h5v1h-5zM24 375h16v1h-16zM794 375h21v1h-21zM196 392h8v1h-8zM615 392h7v1h-7zM165 388h8v1h-8zM642 388h6v1h-6zM1347 284h6v1h-6zM900 365h11v1h-11zM1146 312h7v1h-7zM1112 319h3v1h-3zM307 402h9v1h-9zM568 402h5v1h-5zM1092 324h4v1h-4zM88 378h10v1h-10zM720 378h10v1h-10zM1213 303h7v1h-7zM118 381h6v1h-6zM690 381h10v1h-10zM98 379h11v1h-11zM710 379h10v1h-10zM1153 311h7v1h-7zM1267 296h8v1h-8zM1033 337h5v1h-5zM254 398h19v1h-19zM586 398h5v1h-5zM40 376h8v1h-8zM770 376h24v1h-24zM3 372h11v1h-11zM836 372h11v1h-11zM1205 304h8v1h-8zM1015 341h4v1h-4zM1100 322h4v1h-4zM1353 283h6v1h-6zM1080 327h4v1h-4zM1283 294h8v1h-8zM158 387h7v1h-7zM648 387h7v1h-7zM1220 302h8v1h-8zM1123 316h4v1h-4zM1019 340h5v1h-5zM1104 321h4v1h-4zM1062 331h4v1h-4zM1160 310h8v1h-8zM1275 295h8v1h-8zM1139 313h7v1h-7zM137 384h7v1h-7zM668 384h7v1h-7zM1002 344h5v1h-5zM273 399h12v1h-12zM582 399h4v1h-4zM1088 325h4v1h-4zM150 386h8v1h-8zM655 386h7v1h-7zM173 389h8v1h-8zM635 389h7v1h-7zM981 349h5v1h-5zM1066 330h5v1h-5zM204 393h7v1h-7zM609 393h6v1h-6zM1029 338h4v1h-4zM911 364h8v1h-8zM977 350h4v1h-4zM919 363h5v1h-5zM990 347h4v1h-4zM1298 292h7v1h-7zM866 369h8v1h-8zM1076 328h5v1h-5zM938 359h4v1h-4zM232 397h22v1h-22zM591 397h4v1h-4zM952 356h4v1h-4zM858 370h8v1h-8zM964 353h5v1h-5zM189 391h7v1h-7zM622 391h6v1h-6zM998 345h4v1h-4zM124 382h7v1h-7zM682 382h8v1h-8zM924 362h4v1h-4zM297 401h10v1h-10zM573 401h4v1h-4zM325 404h11v1h-11zM495 404h17v1h-17zM1043 335h4v1h-4zM881 367h9v1h-9zM1291 293h7v1h-7zM986 348h4v1h-4zM933 360h5v1h-5zM1228 301h7v1h-7zM131 383h6v1h-6zM675 383h7v1h-7zM947 357h5v1h-5zM973 351h4v1h-4zM1311 290h6v1h-6zM1235 300h8v1h-8zM874 368h7v1h-7zM1168 309h7v1h-7zM285 400h12v1h-12zM577 400h5v1h-5zM225 396h7v1h-7zM595 396h5v1h-5zM1175 308h8v1h-8zM1329 287h6v1h-6zM211 394h7v1h-7zM604 394h5v1h-5zM890 366h10v1h-10zM1198 305h8v1h-8zM1119 317h4v1h-4zM1108 320h4v1h-4zM1132 314h7v1h-7zM1096 323h4v1h-4zM1057 332h5v1h-5zM1024 339h5v1h-5zM1084 326h4v1h-4zM928 361h5v1h-5zM1011 342h4v1h-4zM1071 329h5v1h-5zM1038 336h5v1h-5zM942 358h5v1h-5zM960 354h4v1h-4zM218 395h7v1h-7zM600 395h4v1h-4zM956 355h4v1h-4zM1317 289h6v1h-6zM1243 299h8v1h-8zM1259 297h8v1h-8zM1183 307h7v1h-7zM1251 298h8v1h-8zM1341 285h6v1h-6zM1115 318h4v1h-4zM1007 343h4v1h-4zM144 385h6v1h-6zM662 385h6v1h-6zM1052 333h5v1h-5zM969 352h4v1h-4zM1305 291h6v1h-6zM994 346h4v1h-4z"/>
<path fill="#B22222" d="M559 369h88v1h-88zM987 369h19v1h-19zM670 372h15v1h-15zM890 372h21v1h-21zM160 340h121v1h-121zM62 346h15v1h-15zM325 346h8v1h-8zM1312 346h10v1h-10zM666 371h4v1h-4zM911 371h34v1h-34zM685 373h14v1h-14zM852 373h38v1h-38zM699 374h153v1h-153zM647 370h19v1h-19zM945 370h42v1h-42zM3 353h7v1h-7zM377 353h9v1h-9zM1226 353h19v1h-19zM472 362h25v1h-25zM1090 362h16v1h-16zM539 367h10v1h-10zM1024 367h16v1h-16zM549 368h10v1h-10zM1006 368h18v1h-18zM509 364h10v1h-10zM1059 364h13v1h-13zM90 344h13v1h-13zM311 344h7v1h-7zM1332 344h11v1h-11zM20 351h11v1h-11zM360 351h8v1h-8zM1260 351h11v1h-11zM435 359h9v1h-9zM1135 359h16v1h-16zM386 354h15v1h-15zM1209 354h17v1h-17zM497 363h12v1h-12zM1072 363h18v1h-18zM418 357h7v1h-7zM1167 357h15v1h-15zM444 360h12v1h-12zM1120 360h16v1h-16zM103 343h13v1h-13zM304 343h7v1h-7zM1343 343h10v1h-10zM10 352h10v1h-10zM368 352h9v1h-9zM1245 352h15v1h-15zM456 361h16v1h-16zM1106 361h14v1h-14zM115 342h29v1h-29zM296 342h8v1h-8zM1353 342h11v1h-11zM412 356h6v1h-6zM1182 356h14v1h-14zM144 341h16v1h-16zM281 341h15v1h-15zM77 345h13v1h-13zM318 345h7v1h-7zM1322 345h10v1h-10zM30 350h7v1h-7zM353 350h7v1h-7zM1271 350h11v1h-11zM37 349h7v1h-7zM347 349h6v1h-6zM1282 349h10v1h-10zM51 347h11v1h-11zM333 347h7v1h-7zM1302 347h10v1h-10zM425 358h10v1h-10zM1151 358h16v1h-16zM401 355h11v1h-11zM1196 355h13v1h-13zM44 348h7v1h-7zM340 348h7v1h-7zM1292 348h10v1h-10zM519 365h10v1h-10zM1049 365h10v1h-10zM529 366h10v1h-10zM1040 366h9v1h-9z"/>
<path fill="#FF0000" d="M377 181h1v1h-1zM154 463h1v1h-1zM378 180h1v1h-1zM278 306h1v1h-1zM281 302h1v1h-1zM325 246h1v2h-1zM249 342h1v2h-1zM181 428h1v1h-1zM373 186h1v1h-1zM150 468h1v1h-1zM153 464h1v1h-1zM321 252h1v1h-1zM245 348h1v1h-1zM248 344h1v1h-1zM148 470h1v1h-1zM149 469h1v1h-1zM117 510h1v1h-1zM197 408h1v1h-1zM120 506h1v1h-1zM244 349h1v1h-1zM291 289h1v2h-1zM215 385h1v2h-1zM339 229h1v1h-1zM116 511h1v1h-1zM340 228h1v1h-1zM240 354h1v1h-1zM164 450h1v1h-1zM347 218h1v1h-1zM272 313h1v2h-1zM287 294h1v2h-1zM211 390h1v2h-1zM335 234h1v1h-1zM115 512h1v1h-1zM367 193h1v1h-1zM306 270h1v2h-1zM207 396h1v1h-1zM210 392h1v1h-1zM363 198h1v1h-1zM155 462h1v1h-1zM302 276h1v1h-1zM206 397h1v1h-1zM174 438h1v1h-1zM253 337h1v2h-1zM177 433h1v2h-1zM362 199h1v2h-1zM333 236h1v1h-1zM202 402h1v1h-1zM126 498h1v1h-1zM234 361h1v2h-1zM173 439h1v1h-1zM329 241h1v1h-1zM344 222h1v2h-1zM268 318h1v2h-1zM121 504h1v2h-1zM230 366h1v2h-1zM376 182h1v1h-1zM169 444h1v1h-1zM276 308h1v1h-1zM172 440h1v1h-1zM201 403h1v1h-1zM140 480h1v2h-1zM264 324h1v1h-1zM372 187h1v1h-1zM168 445h1v1h-1zM136 486h1v1h-1zM139 482h1v1h-1zM368 192h1v1h-1zM292 288h1v1h-1zM371 188h1v1h-1zM295 284h1v1h-1zM310 265h1v2h-1zM196 409h1v2h-1zM135 487h1v1h-1zM366 194h1v1h-1zM192 414h1v2h-1zM338 230h1v1h-1zM131 492h1v1h-1zM238 356h1v1h-1zM386 169h1v1h-1zM163 451h1v1h-1zM334 235h1v1h-1zM382 174h1v1h-1zM159 456h1v1h-1zM305 272h1v1h-1zM385 170h1v1h-1zM330 240h1v1h-1zM254 336h1v1h-1zM301 277h1v1h-1zM381 175h1v2h-1zM158 457h1v2h-1zM352 212h1v1h-1zM205 398h1v1h-1zM328 242h1v1h-1zM297 282h1v1h-1zM300 278h1v1h-1zM200 404h1v1h-1zM348 217h1v1h-1zM125 499h1v1h-1zM296 283h1v1h-1zM220 379h1v1h-1zM343 224h1v1h-1zM267 320h1v1h-1zM167 446h1v1h-1zM216 384h1v1h-1zM263 325h1v1h-1zM387 168h1v1h-1zM311 264h1v1h-1zM314 260h1v1h-1zM358 205h1v1h-1zM359 204h1v1h-1zM259 330h1v1h-1zM262 326h1v1h-1zM162 452h1v1h-1zM354 210h1v1h-1zM357 206h1v1h-1zM134 488h1v1h-1zM257 332h1v1h-1zM258 331h1v1h-1zM182 427h1v1h-1zM226 372h1v1h-1zM229 368h1v1h-1zM129 494h1v1h-1zM353 211h1v1h-1zM277 307h1v1h-1zM130 493h1v1h-1zM178 432h1v1h-1zM324 248h1v1h-1zM225 373h1v1h-1zM349 216h1v1h-1zM273 312h1v1h-1zM320 253h1v1h-1zM221 378h1v1h-1zM145 474h1v1h-1zM224 374h1v1h-1zM124 500h1v1h-1zM316 258h1v1h-1zM319 254h1v1h-1zM243 350h1v1h-1zM219 380h1v1h-1zM143 476h1v1h-1zM144 475h1v1h-1zM188 420h1v1h-1zM191 416h1v1h-1zM315 259h1v1h-1zM239 355h1v1h-1zM283 300h1v1h-1zM286 296h1v1h-1zM186 422h1v1h-1zM187 421h1v1h-1zM235 360h1v1h-1zM282 301h1v1h-1zM183 426h1v1h-1z"/>
<rect x="115" y="168" width="1508" height="1" fill="#0000FF"/>
<rect x="115" y="249" width="1508" height="1" fill="#0000FF"/>
<rect x="115" y="299" width="1508" height="1" fill="#0000FF"/>
<rect x="115" y="340" width="1508" height="1" fill="#0000FF"/>
<rect x="115" y="381" width="1508" height="1" fill="#0000FF"/>
<rect x="115" y="431" width="1508" height="1" fill="#0000FF"/>
<rect x="115" y="512" width="1508" height="1" fill="#0000FF"/>
<ellipse cx="758.4" cy="398.6" rx="25.8" ry="24.6" fill="none" stroke="#3A40C8" stroke-width="3"/>
<ellipse cx="935.4" cy="371.6" rx="22.0" ry="21.0" fill="none" stroke="#3A40C8" stroke-width="3"/>
<ellipse cx="1334.0" cy="308.5" rx="23.3" ry="22.9" fill="none" stroke="#3A40C8" stroke-width="3"/>
</g>
<line x1="4" y1="566.5" x2="1621" y2="566.5" stroke="#9400D3" stroke-width="1" stroke-dasharray="3 3"/>
<line x1="4" y1="590.5" x2="1621" y2="590.5" stroke="#9400D3" stroke-width="1" stroke-dasharray="3 3"/>
<line x1="4" y1="614.5" x2="1621" y2="614.5" stroke="#9400D3" stroke-width="1" stroke-dasharray="3 3"/>
<path fill="#0000FF" d="M50 590h2v1h-2zM211 590h2v1h-2zM294 590h2v1h-2zM303 590h2v1h-2zM318 590h2v1h-2zM482 590h2v1h-2zM699 590h2v1h-2zM714 590h2v1h-2zM830 590h2v1h-2zM903 590h2v1h-2zM1136 590h21v1h-21zM1207 590h2v1h-2zM1216 590h3v1h-3zM1244 590h3v1h-3zM259 581h2v1h-2zM443 581h19v1h-19zM843 581h2v1h-2zM1065 581h3v1h-3zM1103 581h14v1h-14zM230 587h2v1h-2zM277 587h2v1h-2zM324 587h3v1h-3zM475 587h2v1h-2zM671 587h2v1h-2zM719 587h2v1h-2zM880 587h2v1h-2zM913 587h14v1h-14zM933 587h3v1h-3zM943 587h3v1h-3zM950 587h4v1h-4zM956 587h2v1h-2zM1252 587h2v1h-2zM1341 587h4v1h-4zM1353 587h4v1h-4zM413 574h2v1h-2zM1015 574h2v1h-2zM1043 574h10v1h-10zM1075 574h2v1h-2zM351 578h2v1h-2zM361 578h5v1h-5zM377 578h3v1h-3zM395 578h10v1h-10zM1003 578h3v1h-3zM1056 578h2v1h-2zM339 577h3v1h-3zM349 577h2v1h-2zM405 577h2v1h-2zM1006 577h6v1h-6zM168 600h2v1h-2zM763 600h6v1h-6zM782 600h2v1h-2zM3 598h25v1h-25zM536 598h4v1h-4zM760 598h2v1h-2zM786 598h5v1h-5zM1310 598h4v1h-4zM215 592h2v1h-2zM283 592h9v1h-9zM307 592h9v1h-9zM510 592h4v1h-4zM551 592h3v1h-3zM809 592h2v1h-2zM872 592h4v1h-4zM896 592h5v1h-5zM1159 592h2v1h-2zM1198 592h4v1h-4zM1204 592h2v1h-2zM1232 592h7v1h-7zM1279 592h8v1h-8zM232 586h2v1h-2zM327 586h2v1h-2zM473 586h2v1h-2zM653 586h2v1h-2zM669 586h2v1h-2zM685 586h2v1h-2zM694 586h2v1h-2zM853 586h2v1h-2zM884 586h2v1h-2zM927 586h6v1h-6zM946 586h4v1h-4zM1126 586h2v1h-2zM1188 586h2v1h-2zM1254 586h2v1h-2zM1345 586h8v1h-8zM1357 586h4v1h-4zM64 583h8v1h-8zM263 583h2v1h-2zM466 583h3v1h-3zM658 583h4v1h-4zM690 583h2v1h-2zM848 583h2v1h-2zM963 583h17v1h-17zM1096 583h2v1h-2zM1120 583h2v1h-2zM1263 583h5v1h-5zM228 588h2v1h-2zM298 588h3v1h-3zM322 588h2v1h-2zM477 588h3v1h-3zM673 588h2v1h-2zM678 588h6v1h-6zM704 588h7v1h-7zM833 588h2v1h-2zM908 588h5v1h-5zM936 588h2v1h-2zM941 588h2v1h-2zM954 588h2v1h-2zM1129 588h2v1h-2zM1211 588h2v1h-2zM1249 588h3v1h-3zM1339 588h2v1h-2zM226 589h2v1h-2zM296 589h2v1h-2zM301 589h2v1h-2zM320 589h2v1h-2zM480 589h2v1h-2zM675 589h3v1h-3zM701 589h3v1h-3zM711 589h3v1h-3zM716 589h2v1h-2zM888 589h2v1h-2zM905 589h3v1h-3zM938 589h3v1h-3zM1131 589h5v1h-5zM1192 589h2v1h-2zM1209 589h2v1h-2zM1213 589h3v1h-3zM1247 589h2v1h-2zM164 597h2v1h-2zM530 597h6v1h-6zM540 597h2v1h-2zM791 597h13v1h-13zM1306 597h4v1h-4zM213 591h2v1h-2zM223 591h2v1h-2zM292 591h2v1h-2zM305 591h2v1h-2zM316 591h2v1h-2zM499 591h11v1h-11zM554 591h2v1h-2zM811 591h2v1h-2zM828 591h2v1h-2zM859 591h13v1h-13zM891 591h5v1h-5zM901 591h2v1h-2zM1157 591h2v1h-2zM1195 591h3v1h-3zM1219 591h13v1h-13zM1239 591h5v1h-5zM111 613h4v1h-4zM422 571h6v1h-6zM604 571h2v1h-2zM625 571h7v1h-7zM992 571h4v1h-4zM1020 571h3v1h-3zM1038 571h2v1h-2zM1082 571h2v1h-2zM234 585h2v1h-2zM253 585h2v1h-2zM267 585h9v1h-9zM329 585h3v1h-3zM471 585h2v1h-2zM655 585h2v1h-2zM666 585h3v1h-3zM687 585h2v1h-2zM722 585h2v1h-2zM837 585h2v1h-2zM959 585h2v1h-2zM1091 585h2v1h-2zM1124 585h2v1h-2zM1256 585h2v1h-2zM1361 585h3v1h-3zM353 579h2v1h-2zM357 579h4v1h-4zM366 579h4v1h-4zM373 579h4v1h-4zM380 579h2v1h-2zM393 579h2v1h-2zM45 594h2v1h-2zM197 594h2v1h-2zM520 594h5v1h-5zM546 594h3v1h-3zM733 594h2v1h-2zM823 594h2v1h-2zM1163 594h17v1h-17zM1300 594h2v1h-2zM769 601h8v1h-8zM780 601h2v1h-2zM784 599h2v1h-2zM1314 599h10v1h-10zM123 607h4v1h-4zM150 607h2v1h-2zM1330 607h2v1h-2zM139 611h2v1h-2zM72 584h4v1h-4zM265 584h2v1h-2zM469 584h2v1h-2zM662 584h4v1h-4zM850 584h2v1h-2zM961 584h2v1h-2zM1093 584h3v1h-3zM1122 584h2v1h-2zM1258 584h5v1h-5zM201 596h2v1h-2zM528 596h2v1h-2zM542 596h2v1h-2zM738 596h2v1h-2zM819 596h2v1h-2zM1304 596h2v1h-2zM59 582h5v1h-5zM257 582h2v1h-2zM261 582h2v1h-2zM385 582h2v1h-2zM388 582h2v1h-2zM462 582h4v1h-4zM841 582h2v1h-2zM845 582h3v1h-3zM1098 582h5v1h-5zM1117 582h3v1h-3zM410 575h3v1h-3zM154 605h2v1h-2zM199 595h2v1h-2zM525 595h3v1h-3zM544 595h2v1h-2zM735 595h3v1h-3zM756 595h2v1h-2zM805 595h2v1h-2zM817 595h2v1h-2zM821 595h2v1h-2zM1302 595h2v1h-2zM433 569h3v1h-3zM608 569h2v1h-2zM614 569h4v1h-4zM1026 569h11v1h-11zM355 580h2v1h-2zM370 580h3v1h-3zM382 580h2v1h-2zM391 580h2v1h-2zM1059 580h6v1h-6zM171 602h17v1h-17zM777 602h3v1h-3zM418 572h4v1h-4zM632 572h4v1h-4zM988 572h4v1h-4zM1018 572h2v1h-2zM1040 572h2v1h-2zM1079 572h3v1h-3zM195 593h2v1h-2zM207 593h2v1h-2zM217 593h2v1h-2zM220 593h2v1h-2zM514 593h6v1h-6zM549 593h2v1h-2zM731 593h2v1h-2zM814 593h2v1h-2zM825 593h2v1h-2zM1161 593h2v1h-2zM1202 593h2v1h-2zM1275 593h4v1h-4zM1287 593h13v1h-13zM575 558h2v1h-2zM415 573h3v1h-3zM997 573h2v1h-2zM1077 573h2v1h-2zM120 609h2v1h-2zM144 609h4v1h-4zM342 576h7v1h-7zM407 576h3v1h-3zM1012 576h2v1h-2zM1072 576h2v1h-2zM610 568h4v1h-4zM137 610h2v1h-2zM141 610h3v1h-3zM571 560h2v1h-2zM127 606h6v1h-6zM152 606h2v1h-2zM428 570h5v1h-5zM606 570h2v1h-2zM618 570h7v1h-7zM1023 570h3v1h-3zM586 552h2v1h-2zM582 554h2v1h-2zM107 612h4v1h-4zM573 559h2v1h-2zM134 608h2v1h-2zM148 608h2v1h-2zM579 556h2v1h-2zM577 557h2v1h-2zM584 553h2v1h-2zM1070 578h1v1h-1zM390 581h1v1h-1zM652 587h1v1h-1zM1335 597h1v3h-1zM78 588h1v2h-1zM496 585h1v2h-1zM36 583h1v2h-1zM279 588h1v1h-1zM162 597h1v1h-1zM436 570h1v2h-1zM564 577h1v2h-1zM206 594h1v1h-1zM728 590h1v1h-1zM241 579h1v1h-1zM742 600h1v2h-1zM879 588h1v1h-1zM210 591h1v1h-1zM160 599h1v1h-1zM222 592h1v1h-1zM484 588h1v2h-1zM883 585h1v1h-1zM337 579h1v1h-1zM746 606h1v2h-1zM203 597h1v1h-1zM107 611h1v1h-1zM118 611h1v1h-1zM592 558h1v1h-1zM569 564h1v3h-1zM560 584h1v1h-1zM1274 592h1v1h-1zM92 604h1v1h-1zM1074 575h1v1h-1zM1327 603h1v2h-1zM39 588h1v2h-1zM104 605h1v2h-1zM807 594h1v1h-1zM495 583h1v2h-1zM727 589h1v1h-1zM88 601h1v2h-1zM1042 573h1v1h-1zM55 586h1v1h-1zM591 557h1v1h-1zM488 581h1v1h-1zM1334 600h1v2h-1zM644 581h1v1h-1zM499 590h1v1h-1zM28 595h1v2h-1zM741 599h1v1h-1zM492 577h1v2h-1zM556 589h1v2h-1zM636 573h1v1h-1zM1194 590h1v1h-1zM122 608h1v1h-1zM1186 586h1v1h-1zM103 603h1v2h-1zM106 609h1v2h-1zM157 602h1v1h-1zM1206 591h1v1h-1zM1183 589h1v1h-1zM602 570h1v2h-1zM696 587h1v1h-1zM236 584h1v1h-1zM563 579h1v2h-1zM77 587h1v1h-1zM58 583h1v1h-1zM100 596h1v3h-1zM697 588h1v1h-1zM80 591h1v2h-1zM689 584h1v1h-1zM498 588h1v2h-1zM251 587h1v1h-1zM332 584h1v1h-1zM1068 580h1v1h-1zM81 593h1v1h-1zM494 581h1v2h-1zM568 567h1v2h-1zM255 584h1v1h-1zM986 574h1v1h-1zM87 600h1v1h-1zM590 555h1v2h-1zM559 585h1v2h-1zM745 605h1v1h-1zM49 591h1v1h-1zM1000 575h1v1h-1zM384 581h1v1h-1zM981 580h1v1h-1zM594 561h1v1h-1zM102 601h1v2h-1zM1088 579h1v2h-1zM243 577h1v1h-1zM601 569h1v1h-1zM190 598h1v1h-1zM748 606h1v2h-1zM244 578h1v1h-1zM76 585h1v2h-1zM487 582h1v2h-1zM1084 572h1v2h-1zM1333 602h1v3h-1zM643 580h1v1h-1zM438 573h1v2h-1zM1190 587h1v1h-1zM281 590h1v1h-1zM878 589h1v1h-1zM752 599h1v2h-1zM491 576h1v1h-1zM692 584h1v1h-1zM53 588h1v1h-1zM567 569h1v3h-1zM650 587h1v1h-1zM744 603h1v2h-1zM958 586h1v1h-1zM133 607h1v1h-1zM1087 578h1v1h-1zM155 604h1v1h-1zM240 580h1v1h-1zM170 601h1v1h-1zM570 562h1v2h-1zM497 587h1v1h-1zM996 572h1v1h-1zM205 595h1v1h-1zM980 581h1v2h-1zM882 586h1v1h-1zM593 559h1v2h-1zM729 591h1v1h-1zM855 587h1v1h-1zM90 604h1v1h-1zM562 581h1v2h-1zM91 605h1v1h-1zM94 601h1v1h-1zM755 594h1v1h-1zM1090 583h1v2h-1zM105 607h1v2h-1zM1269 585h1v2h-1zM839 584h1v1h-1zM189 599h1v2h-1zM34 583h1v2h-1zM603 572h1v1h-1zM57 584h1v1h-1zM79 590h1v1h-1zM101 599h1v2h-1zM280 589h1v1h-1zM82 594h1v2h-1zM832 589h1v1h-1zM751 601h1v1h-1zM1014 575h1v1h-1zM490 577h1v2h-1zM437 572h1v1h-1zM983 578h1v1h-1zM440 576h1v2h-1zM657 584h1v1h-1zM83 596h1v1h-1zM493 579h1v2h-1zM209 592h1v1h-1zM33 585h1v2h-1zM566 572h1v2h-1zM44 595h1v1h-1zM558 587h1v1h-1zM441 578h1v1h-1zM159 600h1v1h-1zM1185 587h1v1h-1zM1332 605h1v2h-1zM97 597h1v2h-1zM117 612h1v1h-1zM747 608h1v1h-1zM876 591h1v1h-1zM486 584h1v2h-1zM637 574h1v1h-1zM1086 576h1v2h-1zM1180 593h1v1h-1zM29 593h1v2h-1zM565 574h1v3h-1zM1089 581h1v2h-1zM334 582h1v1h-1zM166 598h1v1h-1zM115 614h1v1h-1zM638 575h1v1h-1zM1337 592h1v3h-1zM246 580h1v2h-1zM698 589h1v1h-1zM561 583h1v1h-1zM48 592h1v1h-1zM1128 587h1v1h-1zM1191 588h1v1h-1zM238 582h1v1h-1zM645 582h1v1h-1zM721 586h1v1h-1zM52 589h1v1h-1zM1268 584h1v1h-1zM816 594h1v1h-1zM192 596h1v1h-1zM1001 576h1v1h-1zM276 586h1v1h-1zM1085 574h1v2h-1zM750 602h1v2h-1zM1002 577h1v1h-1zM596 563h1v1h-1zM724 586h1v1h-1zM93 602h1v2h-1zM1331 608h1v1h-1zM754 595h1v2h-1zM595 562h1v1h-1zM857 589h1v1h-1zM693 585h1v1h-1zM1058 579h1v1h-1zM1339 589h1v1h-1zM651 588h1v1h-1zM242 578h1v1h-1zM32 587h1v2h-1zM219 594h1v1h-1zM1271 588h1v1h-1zM1324 600h1v1h-1zM161 598h1v1h-1zM1187 585h1v1h-1zM245 579h1v1h-1zM119 610h1v1h-1zM249 584h1v2h-1zM40 590h1v2h-1zM439 575h1v1h-1zM282 591h1v1h-1zM442 579h1v2h-1zM336 580h1v1h-1zM85 598h1v1h-1zM252 586h1v1h-1zM256 583h1v1h-1zM753 597h1v2h-1zM640 577h1v1h-1zM43 596h1v1h-1zM96 599h1v1h-1zM99 595h1v1h-1zM982 579h1v1h-1zM194 594h1v1h-1zM237 583h1v1h-1zM248 583h1v1h-1zM1054 576h1v1h-1zM730 592h1v1h-1zM749 604h1v2h-1zM1182 590h1v2h-1zM890 590h1v1h-1zM856 588h1v1h-1zM1338 590h1v2h-1zM156 603h1v1h-1zM31 589h1v2h-1zM1069 579h1v1h-1zM191 597h1v1h-1zM1270 587h1v1h-1zM598 566h1v1h-1zM886 587h1v1h-1zM639 576h1v1h-1zM27 597h1v1h-1zM42 594h1v2h-1zM836 586h1v1h-1zM985 575h1v1h-1zM54 587h1v1h-1zM84 597h1v1h-1zM852 585h1v1h-1zM1053 575h1v1h-1zM35 582h1v1h-1zM225 590h1v1h-1zM646 583h1v1h-1zM647 584h1v1h-1zM597 564h1v2h-1zM167 599h1v1h-1zM684 587h1v1h-1zM247 582h1v1h-1zM1326 602h1v1h-1zM30 591h1v2h-1zM840 583h1v1h-1zM163 596h1v1h-1zM571 561h1v1h-1zM1273 590h1v2h-1zM1325 601h1v1h-1zM239 581h1v1h-1zM1037 570h1v1h-1zM41 592h1v2h-1zM387 583h1v1h-1zM338 578h1v1h-1zM95 600h1v1h-1zM725 587h1v1h-1zM335 581h1v1h-1zM37 585h1v2h-1zM1071 577h1v1h-1zM726 588h1v1h-1zM38 587h1v1h-1zM1181 592h1v1h-1zM250 586h1v1h-1zM762 599h1v1h-1zM813 592h1v1h-1zM740 597h1v2h-1zM858 590h1v1h-1zM984 576h1v2h-1zM987 573h1v1h-1zM56 585h1v1h-1zM999 574h1v1h-1zM204 596h1v1h-1zM1272 589h1v1h-1zM98 596h1v1h-1zM718 588h1v1h-1zM193 595h1v1h-1zM877 590h1v1h-1zM804 596h1v1h-1zM158 601h1v1h-1zM1184 588h1v1h-1zM641 578h1v1h-1zM485 586h1v2h-1zM116 613h1v1h-1zM1329 606h1v1h-1zM808 593h1v1h-1zM136 609h1v1h-1zM642 579h1v1h-1zM86 599h1v1h-1zM1336 595h1v2h-1zM333 583h1v1h-1zM489 579h1v2h-1zM648 585h1v1h-1zM589 554h1v1h-1zM649 586h1v1h-1zM599 567h1v1h-1zM1017 573h1v1h-1zM557 588h1v1h-1zM581 555h1v1h-1zM600 568h1v1h-1zM758 596h1v1h-1zM47 593h1v1h-1zM759 597h1v1h-1zM1328 605h1v1h-1zM1055 577h1v1h-1zM588 553h1v1h-1zM188 601h1v1h-1zM89 603h1v1h-1zM743 602h1v1h-1zM835 587h1v1h-1zM887 588h1v1h-1zM827 592h1v1h-1z"/>
<rect x="2" y="709" width="3" height="7" fill="#C0C0C0"/>
<rect x="10" y="709" width="3" height="7" fill="#C0C0C0"/>
<rect x="18" y="709" width="3" height="8" fill="#C0C0C0"/>
<rect x="26" y="709" width="3" height="8" fill="#C0C0C0"/>
<rect x="34" y="709" width="3" height="5" fill="#C0C0C0"/>
<rect x="42" y="709" width="3" height="5" fill="#C0C0C0"/>
<rect x="50" y="709" width="3" height="5" fill="#C0C0C0"/>
<rect x="58" y="709" width="3" height="3" fill="#C0C0C0"/>
<rect x="66" y="709" width="3" height="1" fill="#C0C0C0"/>
<rect x="74" y="708" width="3" height="1" fill="#C0C0C0"/>
<rect x="82" y="709" width="3" height="2" fill="#C0C0C0"/>
<rect x="90" y="709" width="3" height="5" fill="#C0C0C0"/>
<rect x="98" y="709" width="3" height="6" fill="#C0C0C0"/>
<rect x="106" y="709" width="3" height="13" fill="#C0C0C0"/>
<rect x="114" y="709" width="3" height="19" fill="#C0C0C0"/>
<rect x="122" y="709" width="3" height="22" fill="#C0C0C0"/>
<rect x="130" y="709" width="3" height="24" fill="#C0C0C0"/>
<rect x="138" y="709" width="3" height="27" fill="#C0C0C0"/>
<rect x="146" y="709" width="3" height="29" fill="#C0C0C0"/>
<rect x="154" y="709" width="3" height="30" fill="#C0C0C0"/>
<rect x="162" y="709" width="3" height="27" fill="#C0C0C0"/>
<rect x="170" y="709" width="3" height="27" fill="#C0C0C0"/>
<rect x="178" y="709" width="3" height="27" fill="#C0C0C0"/>
<rect x="186" y="709" width="3" height="25" fill="#C0C0C0"/>
<rect x="194" y="709" width="3" height="23" fill="#C0C0C0"/>
<rect x="202" y="709" width="3" height="22" fill="#C0C0C0"/>
<rect x="210" y="709" width="3" height="19" fill="#C0C0C0"/>
<rect x="218" y="709" width="3" height="17" fill="#C0C0C0"/>
<rect x="226" y="709" width="3" height="14" fill="#C0C0C0"/>
<rect x="234" y="709" width="3" height="10" fill="#C0C0C0"/>
<rect x="242" y="709" width="3" height="4" fill="#C0C0C0"/>
<rect x="250" y="709" width="3" height="3" fill="#C0C0C0"/>
<rect x="258" y="707" width="3" height="2" fill="#C0C0C0"/>
<rect x="266" y="706" width="3" height="3" fill="#C0C0C0"/>
<rect x="274" y="705" width="3" height="4" fill="#C0C0C0"/>
<rect x="282" y="706" width="3" height="3" fill="#C0C0C0"/>
<rect x="290" y="707" width="3" height="2" fill="#C0C0C0"/>
<rect x="298" y="707" width="3" height="2" fill="#C0C0C0"/>
<rect x="314" y="709" width="3" height="1" fill="#C0C0C0"/>
<rect x="322" y="708" width="3" height="1" fill="#C0C0C0"/>
<rect x="330" y="708" width="3" height="1" fill="#C0C0C0"/>
<rect x="338" y="703" width="3" height="6" fill="#C0C0C0"/>
<rect x="346" y="700" width="3" height="9" fill="#C0C0C0"/>
<rect x="354" y="698" width="3" height="11" fill="#C0C0C0"/>
<rect x="362" y="697" width="3" height="12" fill="#C0C0C0"/>
<rect x="370" y="696" width="3" height="13" fill="#C0C0C0"/>
<rect x="378" y="695" width="3" height="14" fill="#C0C0C0"/>
<rect x="386" y="695" width="3" height="14" fill="#C0C0C0"/>
<rect x="394" y="694" width="3" height="15" fill="#C0C0C0"/>
<rect x="402" y="694" width="3" height="15" fill="#C0C0C0"/>
<rect x="410" y="692" width="3" height="17" fill="#C0C0C0"/>
<rect x="418" y="691" width="3" height="18" fill="#C0C0C0"/>
<rect x="426" y="689" width="3" height="20" fill="#C0C0C0"/>
<rect x="434" y="688" width="3" height="21" fill="#C0C0C0"/>
<rect x="442" y="689" width="3" height="20" fill="#C0C0C0"/>
<rect x="450" y="690" width="3" height="19" fill="#C0C0C0"/>
<rect x="458" y="691" width="3" height="18" fill="#C0C0C0"/>
<rect x="466" y="693" width="3" height="16" fill="#C0C0C0"/>
<rect x="474" y="695" width="3" height="14" fill="#C0C0C0"/>
<rect x="482" y="697" width="3" height="12" fill="#C0C0C0"/>
<rect x="490" y="695" width="3" height="14" fill="#C0C0C0"/>
<rect x="498" y="698" width="3" height="11" fill="#C0C0C0"/>
<rect x="506" y="700" width="3" height="9" fill="#C0C0C0"/>
<rect x="514" y="702" width="3" height="7" fill="#C0C0C0"/>
<rect x="522" y="704" width="3" height="5" fill="#C0C0C0"/>
<rect x="530" y="707" width="3" height="2" fill="#C0C0C0"/>
<rect x="538" y="709" width="3" height="1" fill="#C0C0C0"/>
<rect x="546" y="709" width="3" height="2" fill="#C0C0C0"/>
<rect x="554" y="709" width="3" height="2" fill="#C0C0C0"/>
<rect x="562" y="708" width="3" height="1" fill="#C0C0C0"/>
<rect x="570" y="698" width="3" height="11" fill="#C0C0C0"/>
<rect x="578" y="687" width="3" height="22" fill="#C0C0C0"/>
<rect x="586" y="673" width="3" height="36" fill="#C0C0C0"/>
<rect x="594" y="666" width="3" height="43" fill="#C0C0C0"/>
<rect x="602" y="664" width="3" height="45" fill="#C0C0C0"/>
<rect x="610" y="660" width="3" height="49" fill="#C0C0C0"/>
<rect x="618" y="658" width="3" height="51" fill="#C0C0C0"/>
<rect x="626" y="657" width="3" height="52" fill="#C0C0C0"/>
<rect x="634" y="658" width="3" height="51" fill="#C0C0C0"/>
<rect x="642" y="662" width="3" height="47" fill="#C0C0C0"/>
<rect x="650" y="668" width="3" height="41" fill="#C0C0C0"/>
<rect x="658" y="671" width="3" height="38" fill="#C0C0C0"/>
<rect x="666" y="675" width="3" height="34" fill="#C0C0C0"/>
<rect x="674" y="680" width="3" height="29" fill="#C0C0C0"/>
<rect x="682" y="684" width="3" height="25" fill="#C0C0C0"/>
<rect x="690" y="685" width="3" height="24" fill="#C0C0C0"/>
<rect x="698" y="689" width="3" height="20" fill="#C0C0C0"/>
<rect x="706" y="691" width="3" height="18" fill="#C0C0C0"/>
<rect x="714" y="694" width="3" height="15" fill="#C0C0C0"/>
<rect x="722" y="695" width="3" height="14" fill="#C0C0C0"/>
<rect x="730" y="699" width="3" height="10" fill="#C0C0C0"/>
<rect x="738" y="703" width="3" height="6" fill="#C0C0C0"/>
<rect x="746" y="709" width="3" height="5" fill="#C0C0C0"/>
<rect x="754" y="709" width="3" height="7" fill="#C0C0C0"/>
<rect x="762" y="709" width="3" height="12" fill="#C0C0C0"/>
<rect x="770" y="709" width="3" height="17" fill="#C0C0C0"/>
<rect x="778" y="709" width="3" height="21" fill="#C0C0C0"/>
<rect x="786" y="709" width="3" height="23" fill="#C0C0C0"/>
<rect x="794" y="709" width="3" height="23" fill="#C0C0C0"/>
<rect x="802" y="709" width="3" height="23" fill="#C0C0C0"/>
<rect x="810" y="709" width="3" height="20" fill="#C0C0C0"/>
<rect x="818" y="709" width="3" height="20" fill="#C0C0C0"/>
<rect x="826" y="709" width="3" height="18" fill="#C0C0C0"/>
<rect x="834" y="709" width="3" height="14" fill="#C0C0C0"/>
<rect x="842" y="709" width="3" height="8" fill="#C0C0C0"/>
<rect x="850" y="709" width="3" height="4" fill="#C0C0C0"/>
<rect x="858" y="709" width="3" height="4" fill="#C0C0C0"/>
<rect x="866" y="709" width="3" height="4" fill="#C0C0C0"/>
<rect x="874" y="709" width="3" height="5" fill="#C0C0C0"/>
<rect x="882" y="709" width="3" height="2" fill="#C0C0C0"/>
<rect x="890" y="709" width="3" height="2" fill="#C0C0C0"/>
<rect x="898" y="709" width="3" height="3" fill="#C0C0C0"/>
<rect x="906" y="709" width="3" height="2" fill="#C0C0C0"/>
<rect x="914" y="709" width="3" height="1" fill="#C0C0C0"/>
<rect x="922" y="708" width="3" height="1" fill="#C0C0C0"/>
<rect x="930" y="707" width="3" height="2" fill="#C0C0C0"/>
<rect x="938" y="707" width="3" height="2" fill="#C0C0C0"/>
<rect x="946" y="706" width="3" height="3" fill="#C0C0C0"/>
<rect x="954" y="706" width="3" height="3" fill="#C0C0C0"/>
<rect x="962" y="704" width="3" height="5" fill="#C0C0C0"/>
<rect x="970" y="702" width="3" height="7" fill="#C0C0C0"/>
<rect x="978" y="701" width="3" height="8" fill="#C0C0C0"/>
<rect x="986" y="697" width="3" height="12" fill="#C0C0C0"/>
<rect x="994" y="692" width="3" height="17" fill="#C0C0C0"/>
<rect x="1002" y="691" width="3" height="18" fill="#C0C0C0"/>
<rect x="1010" y="689" width="3" height="20" fill="#C0C0C0"/>
<rect x="1018" y="686" width="3" height="23" fill="#C0C0C0"/>
<rect x="1026" y="683" width="3" height="26" fill="#C0C0C0"/>
<rect x="1034" y="680" width="3" height="29" fill="#C0C0C0"/>
<rect x="1042" y="680" width="3" height="29" fill="#C0C0C0"/>
<rect x="1050" y="680" width="3" height="29" fill="#C0C0C0"/>
<rect x="1058" y="682" width="3" height="27" fill="#C0C0C0"/>
<rect x="1066" y="685" width="3" height="24" fill="#C0C0C0"/>
<rect x="1074" y="684" width="3" height="25" fill="#C0C0C0"/>
<rect x="1082" y="681" width="3" height="28" fill="#C0C0C0"/>
<rect x="1090" y="684" width="3" height="25" fill="#C0C0C0"/>
<rect x="1098" y="686" width="3" height="23" fill="#C0C0C0"/>
<rect x="1106" y="687" width="3" height="22" fill="#C0C0C0"/>
<rect x="1114" y="688" width="3" height="21" fill="#C0C0C0"/>
<rect x="1122" y="689" width="3" height="20" fill="#C0C0C0"/>
<rect x="1130" y="692" width="3" height="17" fill="#C0C0C0"/>
<rect x="1138" y="695" width="3" height="14" fill="#C0C0C0"/>
<rect x="1146" y="697" width="3" height="12" fill="#C0C0C0"/>
<rect x="1154" y="699" width="3" height="10" fill="#C0C0C0"/>
<rect x="1162" y="702" width="3" height="7" fill="#C0C0C0"/>
<rect x="1170" y="704" width="3" height="5" fill="#C0C0C0"/>
<rect x="1178" y="706" width="3" height="3" fill="#C0C0C0"/>
<rect x="1186" y="705" width="3" height="4" fill="#C0C0C0"/>
<rect x="1194" y="706" width="3" height="3" fill="#C0C0C0"/>
<rect x="1202" y="707" width="3" height="2" fill="#C0C0C0"/>
<rect x="1210" y="707" width="3" height="2" fill="#C0C0C0"/>
<rect x="1218" y="708" width="3" height="1" fill="#C0C0C0"/>
<rect x="1226" y="708" width="3" height="1" fill="#C0C0C0"/>
<rect x="1234" y="709" width="3" height="1" fill="#C0C0C0"/>
<rect x="1242" y="709" width="3" height="1" fill="#C0C0C0"/>
<rect x="1250" y="709" width="3" height="1" fill="#C0C0C0"/>
<rect x="1266" y="708" width="3" height="1" fill="#C0C0C0"/>
<rect x="1282" y="709" width="3" height="1" fill="#C0C0C0"/>
<rect x="1298" y="709" width="3" height="1" fill="#C0C0C0"/>
<rect x="1306" y="709" width="3" height="3" fill="#C0C0C0"/>
<rect x="1314" y="709" width="3" height="4" fill="#C0C0C0"/>
<rect x="1322" y="709" width="3" height="5" fill="#C0C0C0"/>
<rect x="1330" y="709" width="3" height="7" fill="#C0C0C0"/>
<rect x="1338" y="709" width="3" height="6" fill="#C0C0C0"/>
<rect x="1346" y="709" width="3" height="5" fill="#C0C0C0"/>
<rect x="1354" y="709" width="3" height="3" fill="#C0C0C0"/>
<rect x="1362" y="709" width="3" height="2" fill="#C0C0C0"/>
<path fill="#FF0000" d="M393 698h7v1h-7zM526 698h4v1h-4zM592 698h2v1h-2zM754 698h3v1h-3zM1012 698h4v1h-4zM1184 698h3v1h-3zM32 714h31v1h-31zM112 714h6v1h-6zM277 714h3v1h-3zM787 714h2v1h-2zM893 714h4v1h-4zM311 707h33v1h-33zM773 707h2v1h-2zM967 707h7v1h-7zM1232 707h15v1h-15zM728 687h2v1h-2zM1048 687h4v1h-4zM1136 687h6v1h-6zM19 712h6v1h-6zM79 712h25v1h-25zM284 712h4v1h-4zM783 712h2v1h-2zM902 712h8v1h-8zM1343 712h21v1h-21zM169 732h5v1h-5zM216 732h6v1h-6zM638 667h2v1h-2zM678 667h4v1h-4zM174 733h4v1h-4zM207 733h9v1h-9zM303 708h8v1h-8zM775 708h2v1h-2zM951 708h16v1h-16zM1247 708h41v1h-41zM178 734h14v1h-14zM199 734h8v1h-8zM15 711h4v1h-4zM288 711h5v1h-5zM781 711h2v1h-2zM910 711h16v1h-16zM1328 711h15v1h-15zM446 691h43v1h-43zM603 691h2v1h-2zM739 691h2v1h-2zM1034 691h2v1h-2zM1154 691h5v1h-5zM25 713h7v1h-7zM63 713h16v1h-16zM104 713h8v1h-8zM280 713h4v1h-4zM785 713h2v1h-2zM897 713h5v1h-5zM149 725h2v1h-2zM245 725h3v1h-3zM810 725h3v1h-3zM849 725h3v1h-3zM11 710h4v1h-4zM293 710h4v1h-4zM779 710h2v1h-2zM926 710h8v1h-8zM1320 710h8v1h-8zM366 703h6v1h-6zM550 703h4v1h-4zM581 703h3v1h-3zM765 703h2v1h-2zM989 703h4v1h-4zM1206 703h4v1h-4zM159 729h3v1h-3zM232 729h5v1h-5zM141 722h2v1h-2zM253 722h2v1h-2zM802 722h2v1h-2zM860 722h4v1h-4zM389 699h4v1h-4zM530 699h4v1h-4zM590 699h2v1h-2zM757 699h2v1h-2zM1008 699h4v1h-4zM1187 699h4v1h-4zM351 705h8v1h-8zM560 705h15v1h-15zM769 705h2v1h-2zM981 705h4v1h-4zM1216 705h9v1h-9zM614 683h2v1h-2zM718 683h2v1h-2zM1068 683h8v1h-8zM1107 683h8v1h-8zM690 671h3v1h-3zM438 692h8v1h-8zM489 692h10v1h-10zM741 692h2v1h-2zM1031 692h3v1h-3zM1159 692h4v1h-4zM715 682h3v1h-3zM1076 682h31v1h-31zM372 702h5v1h-5zM544 702h6v1h-6zM584 702h2v1h-2zM763 702h2v1h-2zM993 702h6v1h-6zM1201 702h5v1h-5zM422 694h9v1h-9zM505 694h5v1h-5zM745 694h2v1h-2zM1026 694h3v1h-3zM1167 694h4v1h-4zM400 697h7v1h-7zM521 697h5v1h-5zM752 697h2v1h-2zM1016 697h4v1h-4zM1180 697h4v1h-4zM644 664h5v1h-5zM664 664h6v1h-6zM3 709h8v1h-8zM297 709h6v1h-6zM777 709h2v1h-2zM934 709h17v1h-17zM1288 709h32v1h-32zM611 685h2v1h-2zM723 685h2v1h-2zM1056 685h5v1h-5zM1122 685h7v1h-7zM118 715h4v1h-4zM274 715h3v1h-3zM789 715h2v1h-2zM888 715h5v1h-5zM151 726h3v1h-3zM242 726h3v1h-3zM813 726h4v1h-4zM845 726h4v1h-4zM344 706h7v1h-7zM771 706h2v1h-2zM974 706h7v1h-7zM1225 706h7v1h-7zM629 673h2v1h-2zM695 673h2v1h-2zM359 704h7v1h-7zM554 704h6v1h-6zM575 704h6v1h-6zM767 704h2v1h-2zM985 704h4v1h-4zM1210 704h6v1h-6zM414 695h8v1h-8zM510 695h5v1h-5zM597 695h2v1h-2zM747 695h2v1h-2zM1023 695h3v1h-3zM1171 695h5v1h-5zM384 700h5v1h-5zM534 700h4v1h-4zM759 700h2v1h-2zM1004 700h4v1h-4zM1191 700h4v1h-4zM133 719h2v1h-2zM261 719h4v1h-4zM796 719h2v1h-2zM872 719h4v1h-4zM431 693h7v1h-7zM499 693h6v1h-6zM600 693h2v1h-2zM743 693h2v1h-2zM1029 693h2v1h-2zM1163 693h4v1h-4zM620 679h2v1h-2zM709 679h2v1h-2zM122 716h4v1h-4zM271 716h3v1h-3zM791 716h2v1h-2zM884 716h4v1h-4zM130 718h3v1h-3zM265 718h4v1h-4zM876 718h4v1h-4zM625 676h2v1h-2zM701 676h3v1h-3zM157 728h2v1h-2zM237 728h3v1h-3zM823 728h16v1h-16zM649 663h15v1h-15zM377 701h7v1h-7zM538 701h6v1h-6zM586 701h3v1h-3zM761 701h2v1h-2zM999 701h5v1h-5zM1195 701h6v1h-6zM192 735h7v1h-7zM162 730h3v1h-3zM226 730h6v1h-6zM642 665h2v1h-2zM670 665h4v1h-4zM725 686h3v1h-3zM1052 686h4v1h-4zM1129 686h7v1h-7zM607 688h2v1h-2zM730 688h3v1h-3zM1044 688h4v1h-4zM1142 688h4v1h-4zM143 723h3v1h-3zM250 723h3v1h-3zM804 723h3v1h-3zM856 723h4v1h-4zM720 684h3v1h-3zM1061 684h7v1h-7zM1115 684h7v1h-7zM126 717h4v1h-4zM269 717h2v1h-2zM793 717h2v1h-2zM880 717h4v1h-4zM733 689h3v1h-3zM1040 689h4v1h-4zM1146 689h4v1h-4zM154 727h3v1h-3zM240 727h2v1h-2zM817 727h6v1h-6zM839 727h6v1h-6zM165 731h4v1h-4zM222 731h4v1h-4zM135 720h3v1h-3zM258 720h3v1h-3zM798 720h2v1h-2zM868 720h4v1h-4zM736 690h3v1h-3zM1036 690h4v1h-4zM1150 690h4v1h-4zM640 666h2v1h-2zM674 666h4v1h-4zM634 669h2v1h-2zM685 669h2v1h-2zM704 677h2v1h-2zM146 724h3v1h-3zM248 724h2v1h-2zM807 724h3v1h-3zM852 724h4v1h-4zM138 721h3v1h-3zM255 721h3v1h-3zM800 721h2v1h-2zM864 721h4v1h-4zM407 696h7v1h-7zM515 696h6v1h-6zM595 696h2v1h-2zM749 696h3v1h-3zM1020 696h3v1h-3zM1176 696h4v1h-4zM687 670h3v1h-3zM622 678h2v1h-2zM706 678h3v1h-3zM617 681h2v1h-2zM713 681h2v1h-2zM636 668h2v1h-2zM682 668h3v1h-3zM697 674h2v1h-2zM711 680h2v1h-2zM699 675h2v1h-2zM693 672h2v1h-2zM633 670h1v1h-1zM619 680h1v1h-1zM631 672h1v1h-1zM616 682h1v1h-1zM589 700h1v1h-1zM613 684h1v1h-1zM599 694h1v1h-1zM605 690h1v1h-1zM609 687h1v1h-1zM594 697h1v1h-1zM610 686h1v1h-1zM606 689h1v1h-1zM632 671h1v1h-1zM628 674h1v1h-1zM627 675h1v1h-1zM795 718h1v1h-1zM602 692h1v1h-1zM624 677h1v1h-1z"/>
<rect x="2.5" y="2.5" width="1621" height="525" fill="none" stroke="#000" stroke-width="1"/>
<rect x="2.5" y="529.5" width="1621" height="121" fill="none" stroke="#000" stroke-width="1"/>
<rect x="2.5" y="652.5" width="1621" height="90" fill="none" stroke="#000" stroke-width="1"/>
<rect x="1624" y="14" width="2" height="1" fill="#000"/>
<rect x="1624" y="48" width="2" height="1" fill="#000"/>
<rect x="1624" y="82" width="2" height="1" fill="#000"/>
<rect x="1624" y="116" width="2" height="1" fill="#000"/>
<rect x="1624" y="150" width="2" height="1" fill="#000"/>
<rect x="1624" y="184" width="2" height="1" fill="#000"/>
<rect x="1624" y="218" width="2" height="1" fill="#000"/>
<rect x="1624" y="252" width="2" height="1" fill="#000"/>
<rect x="1624" y="286" width="2" height="1" fill="#000"/>
<rect x="1624" y="319" width="2" height="1" fill="#000"/>
<rect x="1624" y="353" width="2" height="1" fill="#000"/>
<rect x="1624" y="387" width="2" height="1" fill="#000"/>
<rect x="1624" y="421" width="2" height="1" fill="#000"/>
<rect x="1624" y="455" width="2" height="1" fill="#000"/>
<rect x="1624" y="489" width="2" height="1" fill="#000"/>
<rect x="1624" y="523" width="2" height="1" fill="#000"/>
<rect x="1624" y="531" width="1" height="1" fill="#000"/>
<rect x="1624" y="649" width="1" height="1" fill="#000"/>
<rect x="1624" y="654" width="1" height="1" fill="#000"/>
<rect x="1624" y="709" width="1" height="1" fill="#000"/>
<rect x="1624" y="741" width="1" height="1" fill="#000"/>
<rect x="3" y="743" width="1" height="3" fill="#000"/>
<rect x="67" y="743" width="1" height="3" fill="#000"/>
<rect x="131" y="743" width="1" height="3" fill="#000"/>
<rect x="195" y="743" width="1" height="3" fill="#000"/>
<rect x="259" y="743" width="1" height="3" fill="#000"/>
<rect x="323" y="743" width="1" height="3" fill="#000"/>
<rect x="387" y="743" width="1" height="3" fill="#000"/>
<rect x="451" y="743" width="1" height="3" fill="#000"/>
<rect x="515" y="743" width="1" height="3" fill="#000"/>
<rect x="579" y="743" width="1" height="3" fill="#000"/>
<rect x="643" y="743" width="1" height="3" fill="#000"/>
<rect x="707" y="743" width="1" height="3" fill="#000"/>
<rect x="771" y="743" width="1" height="3" fill="#000"/>
<rect x="835" y="743" width="1" height="3" fill="#000"/>
<rect x="899" y="743" width="1" height="3" fill="#000"/>
<rect x="963" y="743" width="1" height="3" fill="#000"/>
<rect x="1027" y="743" width="1" height="3" fill="#000"/>
<rect x="1091" y="743" width="1" height="3" fill="#000"/>
<rect x="1155" y="743" width="1" height="3" fill="#000"/>
<rect x="1219" y="743" width="1" height="3" fill="#000"/>
<rect x="1283" y="743" width="1" height="3" fill="#000"/>
<rect x="1347" y="743" width="1" height="3" fill="#000"/>
<path d="M6 9h7v1h-1v1h-1v1h-1v1h-1v-1h-1v-1h-1v-1h-1z" fill="#000"/>
</g>
<text x="18.3" y="14" textLength="54" lengthAdjust="spacingAndGlyphs">ETHUSD,H1</text>
<text x="78.6" y="14" textLength="27.5" lengthAdjust="spacingAndGlyphs">11.895</text>
<text x="109.9" y="14" textLength="27.5" lengthAdjust="spacingAndGlyphs">11.925</text>
<text x="140.8" y="14" textLength="27.5" lengthAdjust="spacingAndGlyphs">11.853</text>
<text x="171.6" y="14" textLength="27.5" lengthAdjust="spacingAndGlyphs">11.866</text>
<text x="1629.5" y="18" textLength="28" lengthAdjust="spacingAndGlyphs">12.540</text>
<text x="1629.5" y="52" textLength="28" lengthAdjust="spacingAndGlyphs">12.445</text>
<text x="1629.5" y="86" textLength="28" lengthAdjust="spacingAndGlyphs">12.350</text>
<text x="1629.5" y="120" textLength="28" lengthAdjust="spacingAndGlyphs">12.255</text>
<text x="1629.5" y="154" textLength="28" lengthAdjust="spacingAndGlyphs">12.160</text>
<text x="1629.5" y="188" textLength="28" lengthAdjust="spacingAndGlyphs">12.065</text>
<text x="1629.5" y="222" textLength="28" lengthAdjust="spacingAndGlyphs">11.970</text>
<text x="1629.5" y="256" textLength="28" lengthAdjust="spacingAndGlyphs">11.875</text>
<text x="1629.5" y="290" textLength="28" lengthAdjust="spacingAndGlyphs">11.780</text>
<text x="1629.5" y="323" textLength="28" lengthAdjust="spacingAndGlyphs">11.690</text>
<text x="1629.5" y="357" textLength="28" lengthAdjust="spacingAndGlyphs">11.595</text>
<text x="1629.5" y="391" textLength="28" lengthAdjust="spacingAndGlyphs">11.500</text>
<text x="1629.5" y="425" textLength="28" lengthAdjust="spacingAndGlyphs">11.405</text>
<text x="1629.5" y="459" textLength="28" lengthAdjust="spacingAndGlyphs">11.310</text>
<text x="1629.5" y="493" textLength="28" lengthAdjust="spacingAndGlyphs">11.215</text>
<text x="1629.5" y="527" textLength="28" lengthAdjust="spacingAndGlyphs">11.120</text>
<rect x="1625" y="251" width="36" height="11" fill="#000" shape-rendering="crispEdges"/>
<text x="1629.5" y="260" textLength="28" lengthAdjust="spacingAndGlyphs" class="w">11.866</text>
<text class="b" y="166"><tspan x="1575.3" textLength="13.2" lengthAdjust="spacingAndGlyphs">0.0</tspan>  <tspan x="1594.3" text-anchor="start" textLength="27.5" lengthAdjust="spacingAndGlyphs">12.112</tspan></text>
<text class="b" y="247"><tspan x="1570.2" textLength="18.3" lengthAdjust="spacingAndGlyphs">23.6</tspan>  <tspan x="1594.3" text-anchor="start" textLength="27.5" lengthAdjust="spacingAndGlyphs">11.885</tspan></text>
<text class="b" y="297"><tspan x="1570.2" textLength="18.3" lengthAdjust="spacingAndGlyphs">38.2</tspan>  <tspan x="1594.3" text-anchor="start" textLength="27.5" lengthAdjust="spacingAndGlyphs">11.744</tspan></text>
<text class="b" y="338"><tspan x="1573.3" textLength="17.6" lengthAdjust="spacingAndGlyphs">50.0</tspan> <tspan x="1594.3" text-anchor="start" textLength="27.5" lengthAdjust="spacingAndGlyphs">11.631</tspan></text>
<text class="b" y="379"><tspan x="1570.2" textLength="18.3" lengthAdjust="spacingAndGlyphs">61.8</tspan>  <tspan x="1594.3" text-anchor="start" textLength="27.5" lengthAdjust="spacingAndGlyphs">11.517</tspan></text>
<text class="b" y="429"><tspan x="1565.2" textLength="23.3" lengthAdjust="spacingAndGlyphs">0.764</tspan>  <tspan x="1594.3" text-anchor="start" textLength="27.5" lengthAdjust="spacingAndGlyphs">11.377</tspan></text>
<text class="b" y="510"><tspan x="1565.9" textLength="22.6" lengthAdjust="spacingAndGlyphs">100.0</tspan>  <tspan x="1594.3" text-anchor="start" textLength="27.5" lengthAdjust="spacingAndGlyphs">11.150</tspan></text>
<text x="7.5" y="542" textLength="31.5" lengthAdjust="spacingAndGlyphs">RSI(14)</text>
<text x="42" y="542" textLength="32.8" lengthAdjust="spacingAndGlyphs">54.5921</text>
<text x="1626.5" y="540" textLength="15.3" lengthAdjust="spacingAndGlyphs">100</text>
<text x="1626.5" y="570" textLength="9.7" lengthAdjust="spacingAndGlyphs">70</text>
<text x="1626.5" y="594" textLength="9.7" lengthAdjust="spacingAndGlyphs">50</text>
<text x="1626.5" y="618" textLength="9.7" lengthAdjust="spacingAndGlyphs">30</text>
<text x="1626.5" y="647" textLength="5" lengthAdjust="spacingAndGlyphs">0</text>
<text x="7.3" y="665" textLength="65.3" lengthAdjust="spacingAndGlyphs">MACD(12,26,9)</text>
<text x="76.3" y="665" textLength="30.5" lengthAdjust="spacingAndGlyphs">-0.0017</text>
<text x="109.8" y="665" textLength="31.2" lengthAdjust="spacingAndGlyphs">-0.0067</text>
<text x="1627" y="663" textLength="23.5" lengthAdjust="spacingAndGlyphs">0.134</text>
<text x="1627" y="713" textLength="18.3" lengthAdjust="spacingAndGlyphs">0.00</text>
<text x="1627" y="739" textLength="31" lengthAdjust="spacingAndGlyphs">-0.0768</text>
<text x="2" y="755" textLength="47" lengthAdjust="spacingAndGlyphs">7 Sep 2016</text>
<text x="66" y="755" textLength="49.5" lengthAdjust="spacingAndGlyphs">8 Sep 06:00</text>
<text x="130" y="755" textLength="49.5" lengthAdjust="spacingAndGlyphs">8 Sep 14:00</text>
<text x="194" y="755" textLength="49.5" lengthAdjust="spacingAndGlyphs">8 Sep 22:00</text>
<text x="258" y="755" textLength="49.5" lengthAdjust="spacingAndGlyphs">9 Sep 06:00</text>
<text x="322" y="755" textLength="49.5" lengthAdjust="spacingAndGlyphs">9 Sep 14:00</text>
<text x="386" y="755" textLength="49.5" lengthAdjust="spacingAndGlyphs">9 Sep 22:00</text>
<text x="450" y="755" textLength="54.5" lengthAdjust="spacingAndGlyphs">10 Sep 06:00</text>
<text x="514" y="755" textLength="54.5" lengthAdjust="spacingAndGlyphs">10 Sep 14:00</text>
<text x="578" y="755" textLength="54.5" lengthAdjust="spacingAndGlyphs">10 Sep 22:00</text>
<text x="642" y="755" textLength="54.5" lengthAdjust="spacingAndGlyphs">11 Sep 06:00</text>
<text x="706" y="755" textLength="54.5" lengthAdjust="spacingAndGlyphs">11 Sep 14:00</text>
<text x="770" y="755" textLength="54.5" lengthAdjust="spacingAndGlyphs">11 Sep 22:00</text>
<text x="834" y="755" textLength="54.5" lengthAdjust="spacingAndGlyphs">12 Sep 06:00</text>
<text x="898" y="755" textLength="54.5" lengthAdjust="spacingAndGlyphs">12 Sep 14:00</text>
<text x="962" y="755" textLength="54.5" lengthAdjust="spacingAndGlyphs">12 Sep 22:00</text>
<text x="1026" y="755" textLength="54.5" lengthAdjust="spacingAndGlyphs">13 Sep 06:00</text>
<text x="1090" y="755" textLength="54.5" lengthAdjust="spacingAndGlyphs">13 Sep 14:00</text>
<text x="1154" y="755" textLength="54.5" lengthAdjust="spacingAndGlyphs">13 Sep 22:00</text>
<text x="1218" y="755" textLength="54.5" lengthAdjust="spacingAndGlyphs">14 Sep 06:00</text>
<text x="1282" y="755" textLength="54.5" lengthAdjust="spacingAndGlyphs">14 Sep 16:00</text>
<text x="1346" y="755" textLength="54.5" lengthAdjust="spacingAndGlyphs">15 Sep 00:00</text>
</svg></body></html>
